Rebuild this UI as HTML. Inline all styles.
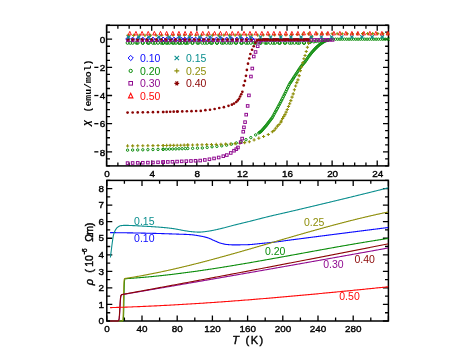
<!DOCTYPE html>
<html><head><meta charset="utf-8"><title>chart</title>
<style>html,body{margin:0;padding:0;background:#fff;}svg{display:block;will-change:transform;opacity:0.999;}body{font-family:"Liberation Sans",sans-serif;}</style>
</head><body>
<svg width="471" height="364" viewBox="0 0 471 364">
<rect width="471" height="364" fill="#fff"/>
<g stroke="#000" stroke-width="1.5" fill="none" stroke-linecap="butt">
<rect x="106.6" y="25.3" width="281.9" height="140.6"/>
<rect x="106.8" y="180.4" width="281.59999999999997" height="140.6"/>
<path d="M106.60 165.9v-5.5M106.60 25.3v5.5M117.88 165.9v-3.4M117.88 25.3v3.4M129.15 165.9v-3.4M129.15 25.3v3.4M140.43 165.9v-3.4M140.43 25.3v3.4M151.70 165.9v-5.5M151.70 25.3v5.5M162.98 165.9v-3.4M162.98 25.3v3.4M174.26 165.9v-3.4M174.26 25.3v3.4M185.53 165.9v-3.4M185.53 25.3v3.4M196.81 165.9v-5.5M196.81 25.3v5.5M208.08 165.9v-3.4M208.08 25.3v3.4M219.36 165.9v-3.4M219.36 25.3v3.4M230.64 165.9v-3.4M230.64 25.3v3.4M241.91 165.9v-5.5M241.91 25.3v5.5M253.19 165.9v-3.4M253.19 25.3v3.4M264.46 165.9v-3.4M264.46 25.3v3.4M275.74 165.9v-3.4M275.74 25.3v3.4M287.02 165.9v-5.5M287.02 25.3v5.5M298.29 165.9v-3.4M298.29 25.3v3.4M309.57 165.9v-3.4M309.57 25.3v3.4M320.84 165.9v-3.4M320.84 25.3v3.4M332.12 165.9v-5.5M332.12 25.3v5.5M343.40 165.9v-3.4M343.40 25.3v3.4M354.67 165.9v-3.4M354.67 25.3v3.4M365.95 165.9v-3.4M365.95 25.3v3.4M377.22 165.9v-5.5M377.22 25.3v5.5M388.50 165.9v-3.4M388.50 25.3v3.4M106.6 165.92h3.4M388.5 165.92h-3.4M106.6 158.88h3.4M388.5 158.88h-3.4M106.6 151.84h5.5M388.5 151.84h-5.5M106.6 144.80h3.4M388.5 144.80h-3.4M106.6 137.76h3.4M388.5 137.76h-3.4M106.6 130.72h3.4M388.5 130.72h-3.4M106.6 123.68h5.5M388.5 123.68h-5.5M106.6 116.64h3.4M388.5 116.64h-3.4M106.6 109.60h3.4M388.5 109.60h-3.4M106.6 102.56h3.4M388.5 102.56h-3.4M106.6 95.52h5.5M388.5 95.52h-5.5M106.6 88.48h3.4M388.5 88.48h-3.4M106.6 81.44h3.4M388.5 81.44h-3.4M106.6 74.40h3.4M388.5 74.40h-3.4M106.6 67.36h5.5M388.5 67.36h-5.5M106.6 60.32h3.4M388.5 60.32h-3.4M106.6 53.28h3.4M388.5 53.28h-3.4M106.6 46.24h3.4M388.5 46.24h-3.4M106.6 39.20h5.5M388.5 39.20h-5.5M106.6 32.16h3.4M388.5 32.16h-3.4M106.6 25.12h3.4M388.5 25.12h-3.4M106.80 321.0v-5.5M106.80 180.4v5.5M124.40 321.0v-3.4M124.40 180.4v3.4M142.00 321.0v-5.5M142.00 180.4v5.5M159.60 321.0v-3.4M159.60 180.4v3.4M177.20 321.0v-5.5M177.20 180.4v5.5M194.80 321.0v-3.4M194.80 180.4v3.4M212.40 321.0v-5.5M212.40 180.4v5.5M230.00 321.0v-3.4M230.00 180.4v3.4M247.60 321.0v-5.5M247.60 180.4v5.5M265.20 321.0v-3.4M265.20 180.4v3.4M282.80 321.0v-5.5M282.80 180.4v5.5M300.40 321.0v-3.4M300.40 180.4v3.4M318.00 321.0v-5.5M318.00 180.4v5.5M335.60 321.0v-3.4M335.60 180.4v3.4M353.20 321.0v-5.5M353.20 180.4v5.5M370.80 321.0v-3.4M370.80 180.4v3.4M388.40 321.0v-5.5M388.40 180.4v5.5M106.8 321.00h5.5M388.4 321.00h-5.5M106.8 312.73h3.4M388.4 312.73h-3.4M106.8 304.45h5.5M388.4 304.45h-5.5M106.8 296.18h3.4M388.4 296.18h-3.4M106.8 287.90h5.5M388.4 287.90h-5.5M106.8 279.62h3.4M388.4 279.62h-3.4M106.8 271.35h5.5M388.4 271.35h-5.5M106.8 263.07h3.4M388.4 263.07h-3.4M106.8 254.80h5.5M388.4 254.80h-5.5M106.8 246.52h3.4M388.4 246.52h-3.4M106.8 238.25h5.5M388.4 238.25h-5.5M106.8 229.97h3.4M388.4 229.97h-3.4M106.8 221.70h5.5M388.4 221.70h-5.5M106.8 213.43h3.4M388.4 213.43h-3.4M106.8 205.15h5.5M388.4 205.15h-5.5M106.8 196.88h3.4M388.4 196.88h-3.4M106.8 188.60h5.5M388.4 188.60h-5.5M106.8 180.32h3.4M388.4 180.32h-3.4" stroke-width="1.3"/>
</g>
<clipPath id="ct"><rect x="106.6" y="22.3" width="283.09999999999997" height="143.6"/></clipPath>
<g clip-path="url(#ct)">
<path d="M125.70 38.99L127.57 37.12L129.45 38.99L127.57 40.86Z" fill="none" stroke="#0a0aff" stroke-width="1"/>
<path d="M130.78 38.99L132.65 37.12L134.52 38.99L132.65 40.86Z" fill="none" stroke="#0a0aff" stroke-width="1"/>
<path d="M135.85 38.99L137.72 37.12L139.59 38.99L137.72 40.86Z" fill="none" stroke="#0a0aff" stroke-width="1"/>
<path d="M140.92 38.99L142.80 37.12L144.67 38.99L142.80 40.86Z" fill="none" stroke="#0a0aff" stroke-width="1"/>
<path d="M146.00 38.99L147.87 37.12L149.74 38.99L147.87 40.86Z" fill="none" stroke="#0a0aff" stroke-width="1"/>
<path d="M151.07 38.99L152.94 37.12L154.82 38.99L152.94 40.86Z" fill="none" stroke="#0a0aff" stroke-width="1"/>
<path d="M156.15 38.99L158.02 37.12L159.89 38.99L158.02 40.86Z" fill="none" stroke="#0a0aff" stroke-width="1"/>
<path d="M161.22 38.99L163.09 37.12L164.96 38.99L163.09 40.86Z" fill="none" stroke="#0a0aff" stroke-width="1"/>
<path d="M161.33 38.99L163.21 37.12L165.08 38.99L163.21 40.86Z" fill="none" stroke="#0a0aff" stroke-width="1"/>
<path d="M164.94 38.99L166.81 37.12L168.69 38.99L166.81 40.86Z" fill="none" stroke="#0a0aff" stroke-width="1"/>
<path d="M168.55 38.99L170.42 37.12L172.29 38.99L170.42 40.86Z" fill="none" stroke="#0a0aff" stroke-width="1"/>
<path d="M172.16 38.99L174.03 37.12L175.90 38.99L174.03 40.86Z" fill="none" stroke="#0a0aff" stroke-width="1"/>
<path d="M175.77 38.99L177.64 37.12L179.51 38.99L177.64 40.86Z" fill="none" stroke="#0a0aff" stroke-width="1"/>
<path d="M179.38 38.99L181.25 37.12L183.12 38.99L181.25 40.86Z" fill="none" stroke="#0a0aff" stroke-width="1"/>
<path d="M182.98 38.99L184.86 37.12L186.73 38.99L184.86 40.86Z" fill="none" stroke="#0a0aff" stroke-width="1"/>
<path d="M186.59 38.99L188.46 37.12L190.34 38.99L188.46 40.86Z" fill="none" stroke="#0a0aff" stroke-width="1"/>
<path d="M190.20 38.99L192.07 37.12L193.94 38.99L192.07 40.86Z" fill="none" stroke="#0a0aff" stroke-width="1"/>
<path d="M193.81 38.99L195.68 37.12L197.55 38.99L195.68 40.86Z" fill="none" stroke="#0a0aff" stroke-width="1"/>
<path d="M197.42 38.99L199.29 37.12L201.16 38.99L199.29 40.86Z" fill="none" stroke="#0a0aff" stroke-width="1"/>
<path d="M199.45 38.99L201.32 37.12L203.19 38.99L201.32 40.86Z" fill="none" stroke="#0a0aff" stroke-width="1"/>
<path d="M204.52 38.99L206.39 37.12L208.26 38.99L206.39 40.86Z" fill="none" stroke="#0a0aff" stroke-width="1"/>
<path d="M209.59 38.99L211.47 37.12L213.34 38.99L211.47 40.86Z" fill="none" stroke="#0a0aff" stroke-width="1"/>
<path d="M214.67 38.99L216.54 37.12L218.41 38.99L216.54 40.86Z" fill="none" stroke="#0a0aff" stroke-width="1"/>
<path d="M219.74 38.99L221.62 37.12L223.49 38.99L221.62 40.86Z" fill="none" stroke="#0a0aff" stroke-width="1"/>
<path d="M224.82 38.99L226.69 37.12L228.56 38.99L226.69 40.86Z" fill="none" stroke="#0a0aff" stroke-width="1"/>
<path d="M229.89 38.99L231.76 37.12L233.64 38.99L231.76 40.86Z" fill="none" stroke="#0a0aff" stroke-width="1"/>
<path d="M234.97 38.99L236.84 37.12L238.71 38.99L236.84 40.86Z" fill="none" stroke="#0a0aff" stroke-width="1"/>
<path d="M240.04 38.99L241.91 37.12L243.78 38.99L241.91 40.86Z" fill="none" stroke="#0a0aff" stroke-width="1"/>
<path d="M245.11 38.99L246.99 37.12L248.86 38.99L246.99 40.86Z" fill="none" stroke="#0a0aff" stroke-width="1"/>
<path d="M250.19 38.99L252.06 37.12L253.93 38.99L252.06 40.86Z" fill="none" stroke="#0a0aff" stroke-width="1"/>
<circle cx="127.57" cy="42.86" r="1.48" fill="none" stroke="#0a8c0a" stroke-width="1"/>
<circle cx="132.65" cy="42.86" r="1.48" fill="none" stroke="#0a8c0a" stroke-width="1"/>
<circle cx="137.72" cy="42.86" r="1.48" fill="none" stroke="#0a8c0a" stroke-width="1"/>
<circle cx="142.80" cy="42.86" r="1.48" fill="none" stroke="#0a8c0a" stroke-width="1"/>
<circle cx="147.87" cy="42.86" r="1.48" fill="none" stroke="#0a8c0a" stroke-width="1"/>
<circle cx="152.94" cy="42.86" r="1.48" fill="none" stroke="#0a8c0a" stroke-width="1"/>
<circle cx="158.02" cy="42.86" r="1.48" fill="none" stroke="#0a8c0a" stroke-width="1"/>
<circle cx="163.09" cy="42.86" r="1.48" fill="none" stroke="#0a8c0a" stroke-width="1"/>
<circle cx="163.21" cy="42.86" r="1.48" fill="none" stroke="#0a8c0a" stroke-width="1"/>
<circle cx="166.36" cy="42.86" r="1.48" fill="none" stroke="#0a8c0a" stroke-width="1"/>
<circle cx="169.52" cy="42.86" r="1.48" fill="none" stroke="#0a8c0a" stroke-width="1"/>
<circle cx="172.68" cy="42.86" r="1.48" fill="none" stroke="#0a8c0a" stroke-width="1"/>
<circle cx="175.83" cy="42.86" r="1.48" fill="none" stroke="#0a8c0a" stroke-width="1"/>
<circle cx="178.99" cy="42.86" r="1.48" fill="none" stroke="#0a8c0a" stroke-width="1"/>
<circle cx="182.15" cy="42.86" r="1.48" fill="none" stroke="#0a8c0a" stroke-width="1"/>
<circle cx="185.31" cy="42.86" r="1.48" fill="none" stroke="#0a8c0a" stroke-width="1"/>
<circle cx="187.79" cy="42.86" r="1.48" fill="none" stroke="#0a8c0a" stroke-width="1"/>
<circle cx="192.64" cy="42.86" r="1.48" fill="none" stroke="#0a8c0a" stroke-width="1"/>
<circle cx="197.48" cy="42.86" r="1.48" fill="none" stroke="#0a8c0a" stroke-width="1"/>
<circle cx="202.33" cy="42.86" r="1.48" fill="none" stroke="#0a8c0a" stroke-width="1"/>
<circle cx="207.18" cy="42.86" r="1.48" fill="none" stroke="#0a8c0a" stroke-width="1"/>
<circle cx="212.03" cy="42.86" r="1.48" fill="none" stroke="#0a8c0a" stroke-width="1"/>
<circle cx="216.88" cy="42.86" r="1.48" fill="none" stroke="#0a8c0a" stroke-width="1"/>
<circle cx="221.73" cy="42.86" r="1.48" fill="none" stroke="#0a8c0a" stroke-width="1"/>
<circle cx="226.58" cy="42.86" r="1.48" fill="none" stroke="#0a8c0a" stroke-width="1"/>
<circle cx="231.43" cy="42.86" r="1.48" fill="none" stroke="#0a8c0a" stroke-width="1"/>
<circle cx="236.27" cy="42.86" r="1.48" fill="none" stroke="#0a8c0a" stroke-width="1"/>
<circle cx="241.12" cy="42.86" r="1.48" fill="none" stroke="#0a8c0a" stroke-width="1"/>
<circle cx="245.97" cy="42.86" r="1.48" fill="none" stroke="#0a8c0a" stroke-width="1"/>
<circle cx="250.82" cy="42.86" r="1.48" fill="none" stroke="#0a8c0a" stroke-width="1"/>
<circle cx="255.67" cy="42.86" r="1.48" fill="none" stroke="#0a8c0a" stroke-width="1"/>
<circle cx="260.52" cy="42.86" r="1.48" fill="none" stroke="#0a8c0a" stroke-width="1"/>
<circle cx="265.37" cy="42.86" r="1.48" fill="none" stroke="#0a8c0a" stroke-width="1"/>
<circle cx="270.21" cy="42.86" r="1.48" fill="none" stroke="#0a8c0a" stroke-width="1"/>
<circle cx="275.06" cy="42.86" r="1.48" fill="none" stroke="#0a8c0a" stroke-width="1"/>
<circle cx="279.91" cy="42.86" r="1.48" fill="none" stroke="#0a8c0a" stroke-width="1"/>
<circle cx="284.76" cy="42.86" r="1.48" fill="none" stroke="#0a8c0a" stroke-width="1"/>
<circle cx="289.61" cy="42.86" r="1.48" fill="none" stroke="#0a8c0a" stroke-width="1"/>
<circle cx="294.46" cy="42.86" r="1.48" fill="none" stroke="#0a8c0a" stroke-width="1"/>
<circle cx="299.31" cy="42.86" r="1.48" fill="none" stroke="#0a8c0a" stroke-width="1"/>
<circle cx="304.16" cy="42.83" r="1.48" fill="none" stroke="#0a8c0a" stroke-width="1"/>
<circle cx="309.00" cy="42.16" r="1.48" fill="none" stroke="#0a8c0a" stroke-width="1"/>
<circle cx="313.85" cy="41.50" r="1.48" fill="none" stroke="#0a8c0a" stroke-width="1"/>
<circle cx="318.70" cy="40.79" r="1.48" fill="none" stroke="#0a8c0a" stroke-width="1"/>
<circle cx="323.55" cy="40.06" r="1.48" fill="none" stroke="#0a8c0a" stroke-width="1"/>
<circle cx="130.28" cy="42.86" r="1.48" fill="none" stroke="#0a8c0a" stroke-width="1"/>
<circle cx="136.48" cy="42.86" r="1.48" fill="none" stroke="#0a8c0a" stroke-width="1"/>
<circle cx="142.68" cy="42.86" r="1.48" fill="none" stroke="#0a8c0a" stroke-width="1"/>
<circle cx="148.88" cy="42.86" r="1.48" fill="none" stroke="#0a8c0a" stroke-width="1"/>
<circle cx="155.09" cy="42.86" r="1.48" fill="none" stroke="#0a8c0a" stroke-width="1"/>
<circle cx="161.29" cy="42.86" r="1.48" fill="none" stroke="#0a8c0a" stroke-width="1"/>
<circle cx="167.49" cy="42.86" r="1.48" fill="none" stroke="#0a8c0a" stroke-width="1"/>
<circle cx="173.69" cy="42.86" r="1.48" fill="none" stroke="#0a8c0a" stroke-width="1"/>
<circle cx="179.89" cy="42.86" r="1.48" fill="none" stroke="#0a8c0a" stroke-width="1"/>
<circle cx="186.10" cy="42.86" r="1.48" fill="none" stroke="#0a8c0a" stroke-width="1"/>
<circle cx="192.30" cy="42.86" r="1.48" fill="none" stroke="#0a8c0a" stroke-width="1"/>
<circle cx="198.50" cy="42.86" r="1.48" fill="none" stroke="#0a8c0a" stroke-width="1"/>
<circle cx="204.70" cy="42.86" r="1.48" fill="none" stroke="#0a8c0a" stroke-width="1"/>
<circle cx="210.90" cy="42.86" r="1.48" fill="none" stroke="#0a8c0a" stroke-width="1"/>
<circle cx="217.10" cy="42.86" r="1.48" fill="none" stroke="#0a8c0a" stroke-width="1"/>
<circle cx="223.31" cy="42.86" r="1.48" fill="none" stroke="#0a8c0a" stroke-width="1"/>
<circle cx="229.51" cy="42.86" r="1.48" fill="none" stroke="#0a8c0a" stroke-width="1"/>
<circle cx="235.71" cy="42.86" r="1.48" fill="none" stroke="#0a8c0a" stroke-width="1"/>
<circle cx="241.91" cy="42.86" r="1.48" fill="none" stroke="#0a8c0a" stroke-width="1"/>
<circle cx="248.11" cy="42.86" r="1.48" fill="none" stroke="#0a8c0a" stroke-width="1"/>
<circle cx="254.32" cy="42.86" r="1.48" fill="none" stroke="#0a8c0a" stroke-width="1"/>
<circle cx="260.52" cy="42.86" r="1.48" fill="none" stroke="#0a8c0a" stroke-width="1"/>
<circle cx="266.72" cy="42.86" r="1.48" fill="none" stroke="#0a8c0a" stroke-width="1"/>
<circle cx="272.92" cy="42.86" r="1.48" fill="none" stroke="#0a8c0a" stroke-width="1"/>
<circle cx="279.12" cy="42.86" r="1.48" fill="none" stroke="#0a8c0a" stroke-width="1"/>
<circle cx="285.32" cy="42.86" r="1.48" fill="none" stroke="#0a8c0a" stroke-width="1"/>
<circle cx="291.53" cy="42.86" r="1.48" fill="none" stroke="#0a8c0a" stroke-width="1"/>
<circle cx="297.73" cy="42.86" r="1.48" fill="none" stroke="#0a8c0a" stroke-width="1"/>
<circle cx="303.93" cy="42.86" r="1.48" fill="none" stroke="#0a8c0a" stroke-width="1"/>
<circle cx="310.13" cy="42.01" r="1.48" fill="none" stroke="#0a8c0a" stroke-width="1"/>
<circle cx="316.33" cy="41.14" r="1.48" fill="none" stroke="#0a8c0a" stroke-width="1"/>
<circle cx="322.54" cy="40.21" r="1.48" fill="none" stroke="#0a8c0a" stroke-width="1"/>
<circle cx="127.57" cy="150.15" r="1.19" fill="none" stroke="#0a8c0a" stroke-width="1"/>
<circle cx="132.65" cy="150.03" r="1.19" fill="none" stroke="#0a8c0a" stroke-width="1"/>
<circle cx="137.72" cy="149.91" r="1.19" fill="none" stroke="#0a8c0a" stroke-width="1"/>
<circle cx="142.80" cy="149.79" r="1.19" fill="none" stroke="#0a8c0a" stroke-width="1"/>
<circle cx="147.87" cy="149.67" r="1.19" fill="none" stroke="#0a8c0a" stroke-width="1"/>
<circle cx="152.94" cy="149.55" r="1.19" fill="none" stroke="#0a8c0a" stroke-width="1"/>
<circle cx="158.02" cy="149.42" r="1.19" fill="none" stroke="#0a8c0a" stroke-width="1"/>
<circle cx="163.09" cy="149.30" r="1.19" fill="none" stroke="#0a8c0a" stroke-width="1"/>
<circle cx="163.21" cy="149.30" r="1.19" fill="none" stroke="#0a8c0a" stroke-width="1"/>
<circle cx="166.36" cy="149.20" r="1.19" fill="none" stroke="#0a8c0a" stroke-width="1"/>
<circle cx="169.52" cy="149.09" r="1.19" fill="none" stroke="#0a8c0a" stroke-width="1"/>
<circle cx="172.68" cy="148.99" r="1.19" fill="none" stroke="#0a8c0a" stroke-width="1"/>
<circle cx="175.83" cy="148.89" r="1.19" fill="none" stroke="#0a8c0a" stroke-width="1"/>
<circle cx="178.99" cy="148.78" r="1.19" fill="none" stroke="#0a8c0a" stroke-width="1"/>
<circle cx="182.15" cy="148.68" r="1.19" fill="none" stroke="#0a8c0a" stroke-width="1"/>
<circle cx="185.31" cy="148.58" r="1.19" fill="none" stroke="#0a8c0a" stroke-width="1"/>
<circle cx="187.79" cy="148.50" r="1.19" fill="none" stroke="#0a8c0a" stroke-width="1"/>
<circle cx="192.64" cy="148.34" r="1.19" fill="none" stroke="#0a8c0a" stroke-width="1"/>
<circle cx="197.48" cy="148.18" r="1.19" fill="none" stroke="#0a8c0a" stroke-width="1"/>
<circle cx="202.33" cy="147.98" r="1.19" fill="none" stroke="#0a8c0a" stroke-width="1"/>
<circle cx="207.18" cy="147.44" r="1.19" fill="none" stroke="#0a8c0a" stroke-width="1"/>
<circle cx="212.03" cy="146.77" r="1.19" fill="none" stroke="#0a8c0a" stroke-width="1"/>
<circle cx="216.88" cy="146.40" r="1.19" fill="none" stroke="#0a8c0a" stroke-width="1"/>
<circle cx="221.73" cy="145.81" r="1.19" fill="none" stroke="#0a8c0a" stroke-width="1"/>
<circle cx="226.58" cy="145.18" r="1.19" fill="none" stroke="#0a8c0a" stroke-width="1"/>
<circle cx="231.43" cy="144.20" r="1.19" fill="none" stroke="#0a8c0a" stroke-width="1"/>
<circle cx="236.27" cy="142.94" r="1.19" fill="none" stroke="#0a8c0a" stroke-width="1"/>
<circle cx="241.12" cy="141.53" r="1.19" fill="none" stroke="#0a8c0a" stroke-width="1"/>
<circle cx="245.97" cy="139.67" r="1.19" fill="none" stroke="#0a8c0a" stroke-width="1"/>
<circle cx="250.82" cy="137.61" r="1.19" fill="none" stroke="#0a8c0a" stroke-width="1"/>
<circle cx="255.67" cy="134.90" r="1.19" fill="none" stroke="#0a8c0a" stroke-width="1"/>
<circle cx="258.83" cy="132.94" r="1.19" fill="none" stroke="#0a8c0a" stroke-width="1"/>
<circle cx="259.67" cy="132.37" r="1.19" fill="none" stroke="#0a8c0a" stroke-width="1"/>
<circle cx="260.52" cy="131.80" r="1.19" fill="none" stroke="#0a8c0a" stroke-width="1"/>
<circle cx="261.36" cy="131.10" r="1.19" fill="none" stroke="#0a8c0a" stroke-width="1"/>
<circle cx="262.21" cy="130.13" r="1.19" fill="none" stroke="#0a8c0a" stroke-width="1"/>
<circle cx="263.05" cy="129.17" r="1.19" fill="none" stroke="#0a8c0a" stroke-width="1"/>
<circle cx="263.90" cy="128.20" r="1.19" fill="none" stroke="#0a8c0a" stroke-width="1"/>
<circle cx="264.75" cy="127.23" r="1.19" fill="none" stroke="#0a8c0a" stroke-width="1"/>
<circle cx="265.59" cy="126.25" r="1.19" fill="none" stroke="#0a8c0a" stroke-width="1"/>
<circle cx="266.44" cy="125.28" r="1.19" fill="none" stroke="#0a8c0a" stroke-width="1"/>
<circle cx="267.28" cy="124.18" r="1.19" fill="none" stroke="#0a8c0a" stroke-width="1"/>
<circle cx="268.13" cy="123.04" r="1.19" fill="none" stroke="#0a8c0a" stroke-width="1"/>
<circle cx="268.97" cy="121.90" r="1.19" fill="none" stroke="#0a8c0a" stroke-width="1"/>
<circle cx="269.82" cy="120.78" r="1.19" fill="none" stroke="#0a8c0a" stroke-width="1"/>
<circle cx="270.67" cy="119.68" r="1.19" fill="none" stroke="#0a8c0a" stroke-width="1"/>
<circle cx="271.51" cy="118.59" r="1.19" fill="none" stroke="#0a8c0a" stroke-width="1"/>
<circle cx="272.36" cy="117.49" r="1.19" fill="none" stroke="#0a8c0a" stroke-width="1"/>
<circle cx="273.20" cy="115.93" r="1.19" fill="none" stroke="#0a8c0a" stroke-width="1"/>
<circle cx="274.05" cy="114.30" r="1.19" fill="none" stroke="#0a8c0a" stroke-width="1"/>
<circle cx="274.89" cy="112.67" r="1.19" fill="none" stroke="#0a8c0a" stroke-width="1"/>
<circle cx="275.74" cy="111.16" r="1.19" fill="none" stroke="#0a8c0a" stroke-width="1"/>
<circle cx="276.59" cy="109.66" r="1.19" fill="none" stroke="#0a8c0a" stroke-width="1"/>
<circle cx="277.43" cy="108.17" r="1.19" fill="none" stroke="#0a8c0a" stroke-width="1"/>
<circle cx="278.28" cy="106.57" r="1.19" fill="none" stroke="#0a8c0a" stroke-width="1"/>
<circle cx="279.12" cy="104.94" r="1.19" fill="none" stroke="#0a8c0a" stroke-width="1"/>
<circle cx="279.97" cy="103.31" r="1.19" fill="none" stroke="#0a8c0a" stroke-width="1"/>
<circle cx="280.81" cy="101.68" r="1.19" fill="none" stroke="#0a8c0a" stroke-width="1"/>
<circle cx="281.66" cy="100.04" r="1.19" fill="none" stroke="#0a8c0a" stroke-width="1"/>
<circle cx="282.51" cy="98.41" r="1.19" fill="none" stroke="#0a8c0a" stroke-width="1"/>
<circle cx="283.35" cy="96.71" r="1.19" fill="none" stroke="#0a8c0a" stroke-width="1"/>
<circle cx="284.20" cy="95.00" r="1.19" fill="none" stroke="#0a8c0a" stroke-width="1"/>
<circle cx="285.04" cy="93.29" r="1.19" fill="none" stroke="#0a8c0a" stroke-width="1"/>
<circle cx="285.89" cy="91.49" r="1.19" fill="none" stroke="#0a8c0a" stroke-width="1"/>
<circle cx="286.73" cy="89.70" r="1.19" fill="none" stroke="#0a8c0a" stroke-width="1"/>
<circle cx="287.58" cy="87.95" r="1.19" fill="none" stroke="#0a8c0a" stroke-width="1"/>
<circle cx="288.43" cy="86.27" r="1.19" fill="none" stroke="#0a8c0a" stroke-width="1"/>
<circle cx="289.27" cy="84.59" r="1.19" fill="none" stroke="#0a8c0a" stroke-width="1"/>
<circle cx="290.12" cy="83.11" r="1.19" fill="none" stroke="#0a8c0a" stroke-width="1"/>
<circle cx="290.96" cy="81.87" r="1.19" fill="none" stroke="#0a8c0a" stroke-width="1"/>
<circle cx="291.81" cy="80.61" r="1.19" fill="none" stroke="#0a8c0a" stroke-width="1"/>
<circle cx="292.65" cy="79.31" r="1.19" fill="none" stroke="#0a8c0a" stroke-width="1"/>
<circle cx="293.50" cy="78.00" r="1.19" fill="none" stroke="#0a8c0a" stroke-width="1"/>
<circle cx="294.35" cy="76.69" r="1.19" fill="none" stroke="#0a8c0a" stroke-width="1"/>
<circle cx="295.19" cy="75.38" r="1.19" fill="none" stroke="#0a8c0a" stroke-width="1"/>
<circle cx="296.04" cy="74.08" r="1.19" fill="none" stroke="#0a8c0a" stroke-width="1"/>
<circle cx="296.88" cy="72.78" r="1.19" fill="none" stroke="#0a8c0a" stroke-width="1"/>
<circle cx="297.73" cy="71.48" r="1.19" fill="none" stroke="#0a8c0a" stroke-width="1"/>
<circle cx="298.57" cy="70.20" r="1.19" fill="none" stroke="#0a8c0a" stroke-width="1"/>
<circle cx="299.42" cy="68.94" r="1.19" fill="none" stroke="#0a8c0a" stroke-width="1"/>
<circle cx="300.27" cy="67.67" r="1.19" fill="none" stroke="#0a8c0a" stroke-width="1"/>
<circle cx="301.11" cy="66.40" r="1.19" fill="none" stroke="#0a8c0a" stroke-width="1"/>
<circle cx="301.96" cy="65.37" r="1.19" fill="none" stroke="#0a8c0a" stroke-width="1"/>
<circle cx="302.80" cy="64.37" r="1.19" fill="none" stroke="#0a8c0a" stroke-width="1"/>
<circle cx="303.65" cy="63.37" r="1.19" fill="none" stroke="#0a8c0a" stroke-width="1"/>
<circle cx="304.49" cy="62.37" r="1.19" fill="none" stroke="#0a8c0a" stroke-width="1"/>
<circle cx="305.34" cy="61.36" r="1.19" fill="none" stroke="#0a8c0a" stroke-width="1"/>
<circle cx="306.19" cy="60.15" r="1.19" fill="none" stroke="#0a8c0a" stroke-width="1"/>
<circle cx="307.03" cy="58.88" r="1.19" fill="none" stroke="#0a8c0a" stroke-width="1"/>
<circle cx="307.88" cy="57.62" r="1.19" fill="none" stroke="#0a8c0a" stroke-width="1"/>
<circle cx="308.72" cy="56.35" r="1.19" fill="none" stroke="#0a8c0a" stroke-width="1"/>
<circle cx="309.57" cy="55.25" r="1.19" fill="none" stroke="#0a8c0a" stroke-width="1"/>
<circle cx="310.41" cy="54.20" r="1.19" fill="none" stroke="#0a8c0a" stroke-width="1"/>
<circle cx="311.26" cy="53.14" r="1.19" fill="none" stroke="#0a8c0a" stroke-width="1"/>
<circle cx="312.11" cy="52.08" r="1.19" fill="none" stroke="#0a8c0a" stroke-width="1"/>
<circle cx="312.95" cy="51.14" r="1.19" fill="none" stroke="#0a8c0a" stroke-width="1"/>
<circle cx="313.80" cy="50.22" r="1.19" fill="none" stroke="#0a8c0a" stroke-width="1"/>
<circle cx="314.64" cy="49.30" r="1.19" fill="none" stroke="#0a8c0a" stroke-width="1"/>
<circle cx="315.49" cy="48.38" r="1.19" fill="none" stroke="#0a8c0a" stroke-width="1"/>
<circle cx="316.33" cy="47.55" r="1.19" fill="none" stroke="#0a8c0a" stroke-width="1"/>
<circle cx="317.18" cy="46.78" r="1.19" fill="none" stroke="#0a8c0a" stroke-width="1"/>
<circle cx="318.02" cy="46.01" r="1.19" fill="none" stroke="#0a8c0a" stroke-width="1"/>
<circle cx="318.87" cy="45.23" r="1.19" fill="none" stroke="#0a8c0a" stroke-width="1"/>
<circle cx="319.72" cy="44.55" r="1.19" fill="none" stroke="#0a8c0a" stroke-width="1"/>
<circle cx="320.56" cy="43.92" r="1.19" fill="none" stroke="#0a8c0a" stroke-width="1"/>
<circle cx="321.41" cy="43.28" r="1.19" fill="none" stroke="#0a8c0a" stroke-width="1"/>
<circle cx="322.25" cy="42.65" r="1.19" fill="none" stroke="#0a8c0a" stroke-width="1"/>
<circle cx="323.10" cy="42.13" r="1.19" fill="none" stroke="#0a8c0a" stroke-width="1"/>
<circle cx="323.94" cy="41.66" r="1.19" fill="none" stroke="#0a8c0a" stroke-width="1"/>
<circle cx="324.79" cy="41.19" r="1.19" fill="none" stroke="#0a8c0a" stroke-width="1"/>
<circle cx="325.64" cy="40.73" r="1.19" fill="none" stroke="#0a8c0a" stroke-width="1"/>
<circle cx="326.48" cy="40.49" r="1.19" fill="none" stroke="#0a8c0a" stroke-width="1"/>
<circle cx="327.33" cy="40.25" r="1.19" fill="none" stroke="#0a8c0a" stroke-width="1"/>
<circle cx="328.17" cy="40.00" r="1.19" fill="none" stroke="#0a8c0a" stroke-width="1"/>
<circle cx="328.74" cy="39.86" r="1.19" fill="none" stroke="#0a8c0a" stroke-width="1"/>
<circle cx="330.99" cy="39.42" r="1.19" fill="none" stroke="#0a8c0a" stroke-width="1"/>
<circle cx="333.25" cy="39.20" r="1.19" fill="none" stroke="#0a8c0a" stroke-width="1"/>
<circle cx="335.50" cy="39.20" r="1.19" fill="none" stroke="#0a8c0a" stroke-width="1"/>
<circle cx="337.76" cy="39.20" r="1.19" fill="none" stroke="#0a8c0a" stroke-width="1"/>
<circle cx="340.01" cy="39.20" r="1.19" fill="none" stroke="#0a8c0a" stroke-width="1"/>
<circle cx="342.27" cy="39.20" r="1.19" fill="none" stroke="#0a8c0a" stroke-width="1"/>
<circle cx="344.52" cy="39.20" r="1.19" fill="none" stroke="#0a8c0a" stroke-width="1"/>
<circle cx="346.78" cy="39.20" r="1.19" fill="none" stroke="#0a8c0a" stroke-width="1"/>
<circle cx="349.03" cy="39.20" r="1.19" fill="none" stroke="#0a8c0a" stroke-width="1"/>
<circle cx="351.29" cy="39.20" r="1.19" fill="none" stroke="#0a8c0a" stroke-width="1"/>
<circle cx="353.54" cy="39.20" r="1.19" fill="none" stroke="#0a8c0a" stroke-width="1"/>
<circle cx="355.80" cy="39.20" r="1.19" fill="none" stroke="#0a8c0a" stroke-width="1"/>
<circle cx="358.05" cy="39.20" r="1.19" fill="none" stroke="#0a8c0a" stroke-width="1"/>
<circle cx="360.31" cy="39.20" r="1.19" fill="none" stroke="#0a8c0a" stroke-width="1"/>
<circle cx="362.57" cy="39.20" r="1.19" fill="none" stroke="#0a8c0a" stroke-width="1"/>
<circle cx="364.82" cy="39.20" r="1.19" fill="none" stroke="#0a8c0a" stroke-width="1"/>
<circle cx="367.08" cy="39.20" r="1.19" fill="none" stroke="#0a8c0a" stroke-width="1"/>
<circle cx="369.33" cy="39.20" r="1.19" fill="none" stroke="#0a8c0a" stroke-width="1"/>
<circle cx="371.59" cy="39.20" r="1.19" fill="none" stroke="#0a8c0a" stroke-width="1"/>
<circle cx="373.84" cy="39.20" r="1.19" fill="none" stroke="#0a8c0a" stroke-width="1"/>
<circle cx="376.10" cy="39.20" r="1.19" fill="none" stroke="#0a8c0a" stroke-width="1"/>
<circle cx="378.35" cy="39.20" r="1.19" fill="none" stroke="#0a8c0a" stroke-width="1"/>
<circle cx="380.61" cy="39.20" r="1.19" fill="none" stroke="#0a8c0a" stroke-width="1"/>
<circle cx="382.86" cy="39.20" r="1.19" fill="none" stroke="#0a8c0a" stroke-width="1"/>
<circle cx="385.12" cy="39.20" r="1.19" fill="none" stroke="#0a8c0a" stroke-width="1"/>
<circle cx="387.37" cy="39.20" r="1.19" fill="none" stroke="#0a8c0a" stroke-width="1"/>
<circle cx="389.63" cy="39.20" r="1.19" fill="none" stroke="#0a8c0a" stroke-width="1"/>
<path d="M126.44 35.35L129.61 35.35M128.02 33.76L128.02 36.93" fill="none" stroke="#8e8e0a" stroke-width="1.1"/>
<path d="M132.08 35.34L135.25 35.34M133.66 33.75L133.66 36.92" fill="none" stroke="#8e8e0a" stroke-width="1.1"/>
<path d="M137.72 35.32L140.88 35.32M139.30 33.74L139.30 36.91" fill="none" stroke="#8e8e0a" stroke-width="1.1"/>
<path d="M143.35 35.31L146.52 35.31M144.94 33.72L144.94 36.89" fill="none" stroke="#8e8e0a" stroke-width="1.1"/>
<path d="M148.99 35.30L152.16 35.30M150.58 33.71L150.58 36.88" fill="none" stroke="#8e8e0a" stroke-width="1.1"/>
<path d="M154.63 35.28L157.80 35.28M156.21 33.70L156.21 36.87" fill="none" stroke="#8e8e0a" stroke-width="1.1"/>
<path d="M160.27 35.27L163.44 35.27M161.85 33.69L161.85 36.85" fill="none" stroke="#8e8e0a" stroke-width="1.1"/>
<path d="M165.91 35.26L169.07 35.26M167.49 33.67L167.49 36.84" fill="none" stroke="#8e8e0a" stroke-width="1.1"/>
<path d="M171.54 35.24L174.71 35.24M173.13 33.66L173.13 36.83" fill="none" stroke="#8e8e0a" stroke-width="1.1"/>
<path d="M177.18 35.23L180.35 35.23M178.77 33.65L178.77 36.81" fill="none" stroke="#8e8e0a" stroke-width="1.1"/>
<path d="M182.82 35.22L185.99 35.22M184.40 33.63L184.40 36.80" fill="none" stroke="#8e8e0a" stroke-width="1.1"/>
<path d="M188.46 35.20L191.63 35.20M190.04 33.62L190.04 36.79" fill="none" stroke="#8e8e0a" stroke-width="1.1"/>
<path d="M194.10 35.19L197.26 35.19M195.68 33.61L195.68 36.77" fill="none" stroke="#8e8e0a" stroke-width="1.1"/>
<path d="M199.73 35.18L202.90 35.18M201.32 33.59L201.32 36.76" fill="none" stroke="#8e8e0a" stroke-width="1.1"/>
<path d="M205.37 35.16L208.54 35.16M206.96 33.58L206.96 36.75" fill="none" stroke="#8e8e0a" stroke-width="1.1"/>
<path d="M211.01 35.15L214.18 35.15M212.59 33.57L212.59 36.73" fill="none" stroke="#8e8e0a" stroke-width="1.1"/>
<path d="M216.65 35.14L219.82 35.14M218.23 33.55L218.23 36.72" fill="none" stroke="#8e8e0a" stroke-width="1.1"/>
<path d="M222.29 35.12L225.45 35.12M223.87 33.54L223.87 36.71" fill="none" stroke="#8e8e0a" stroke-width="1.1"/>
<path d="M227.92 35.11L231.09 35.11M229.51 33.53L229.51 36.69" fill="none" stroke="#8e8e0a" stroke-width="1.1"/>
<path d="M233.56 35.10L236.73 35.10M235.15 33.51L235.15 36.68" fill="none" stroke="#8e8e0a" stroke-width="1.1"/>
<path d="M239.20 35.08L242.37 35.08M240.78 33.50L240.78 36.67" fill="none" stroke="#8e8e0a" stroke-width="1.1"/>
<path d="M244.84 35.07L248.01 35.07M246.42 33.49L246.42 36.66" fill="none" stroke="#8e8e0a" stroke-width="1.1"/>
<path d="M250.48 35.06L253.64 35.06M252.06 33.47L252.06 36.64" fill="none" stroke="#8e8e0a" stroke-width="1.1"/>
<path d="M256.11 35.04L259.28 35.04M257.70 33.46L257.70 36.63" fill="none" stroke="#8e8e0a" stroke-width="1.1"/>
<path d="M261.75 35.03L264.92 35.03M263.34 33.45L263.34 36.62" fill="none" stroke="#8e8e0a" stroke-width="1.1"/>
<path d="M267.39 35.02L270.56 35.02M268.97 33.43L268.97 36.60" fill="none" stroke="#8e8e0a" stroke-width="1.1"/>
<path d="M273.03 35.01L276.20 35.01M274.61 33.42L274.61 36.59" fill="none" stroke="#8e8e0a" stroke-width="1.1"/>
<path d="M278.67 34.99L281.83 34.99M280.25 33.41L280.25 36.58" fill="none" stroke="#8e8e0a" stroke-width="1.1"/>
<path d="M284.30 34.98L287.47 34.98M285.89 33.39L285.89 36.56" fill="none" stroke="#8e8e0a" stroke-width="1.1"/>
<path d="M289.94 34.75L293.11 34.75M291.53 33.17L291.53 36.33" fill="none" stroke="#8e8e0a" stroke-width="1.1"/>
<path d="M295.58 34.47L298.75 34.47M297.16 32.89L297.16 36.05" fill="none" stroke="#8e8e0a" stroke-width="1.1"/>
<path d="M301.22 34.19L304.39 34.19M302.80 32.60L302.80 35.77" fill="none" stroke="#8e8e0a" stroke-width="1.1"/>
<path d="M306.86 33.91L310.02 33.91M308.44 32.32L308.44 35.49" fill="none" stroke="#8e8e0a" stroke-width="1.1"/>
<path d="M125.99 145.93L129.16 145.93M127.57 144.34L127.57 147.51" fill="none" stroke="#8e8e0a" stroke-width="1.1"/>
<path d="M131.06 145.87L134.23 145.87M132.65 144.28L132.65 147.45" fill="none" stroke="#8e8e0a" stroke-width="1.1"/>
<path d="M136.14 145.80L139.31 145.80M137.72 144.22L137.72 147.39" fill="none" stroke="#8e8e0a" stroke-width="1.1"/>
<path d="M141.21 145.74L144.38 145.74M142.80 144.16L142.80 147.33" fill="none" stroke="#8e8e0a" stroke-width="1.1"/>
<path d="M146.29 145.68L149.45 145.68M147.87 144.10L147.87 147.27" fill="none" stroke="#8e8e0a" stroke-width="1.1"/>
<path d="M151.36 145.62L154.53 145.62M152.94 144.04L152.94 147.20" fill="none" stroke="#8e8e0a" stroke-width="1.1"/>
<path d="M156.43 145.56L159.60 145.56M158.02 143.98L158.02 147.14" fill="none" stroke="#8e8e0a" stroke-width="1.1"/>
<path d="M161.51 145.50L164.68 145.50M163.09 143.91L163.09 147.08" fill="none" stroke="#8e8e0a" stroke-width="1.1"/>
<path d="M161.62 145.50L164.79 145.50M163.21 143.91L163.21 147.08" fill="none" stroke="#8e8e0a" stroke-width="1.1"/>
<path d="M165.12 145.45L168.29 145.45M166.70 143.87L166.70 147.04" fill="none" stroke="#8e8e0a" stroke-width="1.1"/>
<path d="M168.61 145.41L171.78 145.41M170.20 143.83L170.20 147.00" fill="none" stroke="#8e8e0a" stroke-width="1.1"/>
<path d="M172.11 145.37L175.28 145.37M173.69 143.79L173.69 146.95" fill="none" stroke="#8e8e0a" stroke-width="1.1"/>
<path d="M175.60 145.30L178.77 145.30M177.19 143.72L177.19 146.88" fill="none" stroke="#8e8e0a" stroke-width="1.1"/>
<path d="M179.10 145.22L182.27 145.22M180.68 143.64L180.68 146.81" fill="none" stroke="#8e8e0a" stroke-width="1.1"/>
<path d="M182.59 145.15L185.76 145.15M184.18 143.56L184.18 146.73" fill="none" stroke="#8e8e0a" stroke-width="1.1"/>
<path d="M186.09 145.07L189.26 145.07M187.67 143.49L187.67 146.65" fill="none" stroke="#8e8e0a" stroke-width="1.1"/>
<path d="M186.20 145.07L189.37 145.07M187.79 143.48L187.79 146.65" fill="none" stroke="#8e8e0a" stroke-width="1.1"/>
<path d="M190.94 144.96L194.11 144.96M192.52 143.38L192.52 146.55" fill="none" stroke="#8e8e0a" stroke-width="1.1"/>
<path d="M195.68 144.86L198.84 144.86M197.26 143.28L197.26 146.44" fill="none" stroke="#8e8e0a" stroke-width="1.1"/>
<path d="M200.41 144.76L203.58 144.76M201.99 143.17L201.99 146.34" fill="none" stroke="#8e8e0a" stroke-width="1.1"/>
<path d="M205.15 144.65L208.31 144.65M206.73 143.07L206.73 146.24" fill="none" stroke="#8e8e0a" stroke-width="1.1"/>
<path d="M209.88 144.55L213.05 144.55M211.47 142.97L211.47 146.13" fill="none" stroke="#8e8e0a" stroke-width="1.1"/>
<path d="M214.62 144.45L217.79 144.45M216.20 142.86L216.20 146.03" fill="none" stroke="#8e8e0a" stroke-width="1.1"/>
<path d="M219.35 144.32L222.52 144.32M220.94 142.73L220.94 145.90" fill="none" stroke="#8e8e0a" stroke-width="1.1"/>
<path d="M224.09 144.14L227.26 144.14M225.67 142.56L225.67 145.73" fill="none" stroke="#8e8e0a" stroke-width="1.1"/>
<path d="M228.83 143.96L231.99 143.96M230.41 142.38L230.41 145.55" fill="none" stroke="#8e8e0a" stroke-width="1.1"/>
<path d="M233.56 143.62L236.73 143.62M235.15 142.03L235.15 145.20" fill="none" stroke="#8e8e0a" stroke-width="1.1"/>
<path d="M238.30 143.26L241.47 143.26M239.88 141.68L239.88 144.85" fill="none" stroke="#8e8e0a" stroke-width="1.1"/>
<path d="M243.03 142.66L246.20 142.66M244.62 141.08L244.62 144.24" fill="none" stroke="#8e8e0a" stroke-width="1.1"/>
<path d="M247.77 141.73L250.94 141.73M249.35 140.15L249.35 143.31" fill="none" stroke="#8e8e0a" stroke-width="1.1"/>
<path d="M252.51 139.96L255.67 139.96M254.09 138.37L254.09 141.54" fill="none" stroke="#8e8e0a" stroke-width="1.1"/>
<path d="M257.24 138.18L260.41 138.18M258.83 136.60L258.83 139.77" fill="none" stroke="#8e8e0a" stroke-width="1.1"/>
<path d="M261.98 136.46L265.15 136.46M263.56 134.88L263.56 138.05" fill="none" stroke="#8e8e0a" stroke-width="1.1"/>
<path d="M266.71 134.54L269.88 134.54M268.30 132.95L268.30 136.12" fill="none" stroke="#8e8e0a" stroke-width="1.1"/>
<path d="M270.77 131.78L273.94 131.78M272.36 130.20L272.36 133.36" fill="none" stroke="#8e8e0a" stroke-width="1.1"/>
<path d="M272.46 130.44L275.63 130.44M274.05 128.85L274.05 132.02" fill="none" stroke="#8e8e0a" stroke-width="1.1"/>
<path d="M274.16 128.29L277.32 128.29M275.74 126.71L275.74 129.88" fill="none" stroke="#8e8e0a" stroke-width="1.1"/>
<path d="M275.85 126.14L279.02 126.14M277.43 124.56L277.43 127.72" fill="none" stroke="#8e8e0a" stroke-width="1.1"/>
<path d="M277.54 124.52L280.71 124.52M279.12 122.94L279.12 126.11" fill="none" stroke="#8e8e0a" stroke-width="1.1"/>
<path d="M279.23 122.28L282.40 122.28M280.81 120.70L280.81 123.87" fill="none" stroke="#8e8e0a" stroke-width="1.1"/>
<path d="M279.79 120.93L282.96 120.93M281.38 119.35L281.38 122.52" fill="none" stroke="#8e8e0a" stroke-width="1.1"/>
<path d="M280.98 118.49L284.15 118.49M282.56 116.90L282.56 120.07" fill="none" stroke="#8e8e0a" stroke-width="1.1"/>
<path d="M282.16 116.55L285.33 116.55M283.75 114.97L283.75 118.14" fill="none" stroke="#8e8e0a" stroke-width="1.1"/>
<path d="M283.35 114.62L286.51 114.62M284.93 113.04L284.93 116.20" fill="none" stroke="#8e8e0a" stroke-width="1.1"/>
<path d="M284.53 112.15L287.70 112.15M286.11 110.57L286.11 113.74" fill="none" stroke="#8e8e0a" stroke-width="1.1"/>
<path d="M285.71 109.46L288.88 109.46M287.30 107.88L287.30 111.04" fill="none" stroke="#8e8e0a" stroke-width="1.1"/>
<path d="M286.90 106.50L290.07 106.50M288.48 104.92L288.48 108.09" fill="none" stroke="#8e8e0a" stroke-width="1.1"/>
<path d="M288.08 103.71L291.25 103.71M289.67 102.12L289.67 105.29" fill="none" stroke="#8e8e0a" stroke-width="1.1"/>
<path d="M289.27 100.61L292.43 100.61M290.85 99.03L290.85 102.20" fill="none" stroke="#8e8e0a" stroke-width="1.1"/>
<path d="M290.45 97.13L293.62 97.13M292.03 95.55L292.03 98.72" fill="none" stroke="#8e8e0a" stroke-width="1.1"/>
<path d="M291.63 93.87L294.80 93.87M293.22 92.28L293.22 95.45" fill="none" stroke="#8e8e0a" stroke-width="1.1"/>
<path d="M292.82 89.80L295.99 89.80M294.40 88.22L294.40 91.38" fill="none" stroke="#8e8e0a" stroke-width="1.1"/>
<path d="M294.00 86.01L297.17 86.01M295.59 84.42L295.59 87.59" fill="none" stroke="#8e8e0a" stroke-width="1.1"/>
<path d="M295.19 82.61L298.35 82.61M296.77 81.03L296.77 84.19" fill="none" stroke="#8e8e0a" stroke-width="1.1"/>
<path d="M296.37 79.84L299.54 79.84M297.95 78.25L297.95 81.42" fill="none" stroke="#8e8e0a" stroke-width="1.1"/>
<path d="M297.55 75.59L300.72 75.59M299.14 74.01L299.14 77.17" fill="none" stroke="#8e8e0a" stroke-width="1.1"/>
<path d="M298.74 70.60L301.91 70.60M300.32 69.01L300.32 72.18" fill="none" stroke="#8e8e0a" stroke-width="1.1"/>
<path d="M299.92 66.94L303.09 66.94M301.51 65.35L301.51 68.52" fill="none" stroke="#8e8e0a" stroke-width="1.1"/>
<path d="M301.11 62.80L304.27 62.80M302.69 61.21L302.69 64.38" fill="none" stroke="#8e8e0a" stroke-width="1.1"/>
<path d="M302.29 58.75L305.46 58.75M303.87 57.16L303.87 60.33" fill="none" stroke="#8e8e0a" stroke-width="1.1"/>
<path d="M303.47 55.53L306.64 55.53M305.06 53.95L305.06 57.12" fill="none" stroke="#8e8e0a" stroke-width="1.1"/>
<path d="M304.66 51.51L307.83 51.51M306.24 49.92L306.24 53.09" fill="none" stroke="#8e8e0a" stroke-width="1.1"/>
<path d="M305.84 47.23L309.01 47.23M307.43 45.64L307.43 48.81" fill="none" stroke="#8e8e0a" stroke-width="1.1"/>
<path d="M307.03 43.32L310.19 43.32M308.61 41.73L308.61 44.90" fill="none" stroke="#8e8e0a" stroke-width="1.1"/>
<path d="M308.21 40.34L311.38 40.34M309.79 38.75L309.79 41.92" fill="none" stroke="#8e8e0a" stroke-width="1.1"/>
<path d="M309.39 37.91L312.56 37.91M310.98 36.33L310.98 39.49" fill="none" stroke="#8e8e0a" stroke-width="1.1"/>
<path d="M310.24 36.65L313.41 36.65M311.82 35.07L311.82 38.24" fill="none" stroke="#8e8e0a" stroke-width="1.1"/>
<path d="M315.31 33.85L318.48 33.85M316.90 32.26L316.90 35.43" fill="none" stroke="#8e8e0a" stroke-width="1.1"/>
<path d="M320.39 33.83L323.56 33.83M321.97 32.24L321.97 35.41" fill="none" stroke="#8e8e0a" stroke-width="1.1"/>
<path d="M325.46 33.81L328.63 33.81M327.05 32.22L327.05 35.39" fill="none" stroke="#8e8e0a" stroke-width="1.1"/>
<path d="M330.54 33.79L333.70 33.79M332.12 32.20L332.12 35.37" fill="none" stroke="#8e8e0a" stroke-width="1.1"/>
<path d="M335.61 33.77L338.78 33.77M337.19 32.18L337.19 35.35" fill="none" stroke="#8e8e0a" stroke-width="1.1"/>
<path d="M340.68 33.75L343.85 33.75M342.27 32.16L342.27 35.33" fill="none" stroke="#8e8e0a" stroke-width="1.1"/>
<path d="M345.76 33.73L348.93 33.73M347.34 32.14L347.34 35.31" fill="none" stroke="#8e8e0a" stroke-width="1.1"/>
<path d="M350.83 33.71L354.00 33.71M352.42 32.12L352.42 35.29" fill="none" stroke="#8e8e0a" stroke-width="1.1"/>
<path d="M355.91 33.69L359.07 33.69M357.49 32.10L357.49 35.27" fill="none" stroke="#8e8e0a" stroke-width="1.1"/>
<path d="M360.98 33.67L364.15 33.67M362.57 32.09L362.57 35.25" fill="none" stroke="#8e8e0a" stroke-width="1.1"/>
<path d="M366.06 33.65L369.22 33.65M367.64 32.07L367.64 35.23" fill="none" stroke="#8e8e0a" stroke-width="1.1"/>
<path d="M371.13 33.63L374.30 33.63M372.71 32.05L372.71 35.21" fill="none" stroke="#8e8e0a" stroke-width="1.1"/>
<path d="M376.20 33.61L379.37 33.61M377.79 32.03L377.79 35.19" fill="none" stroke="#8e8e0a" stroke-width="1.1"/>
<path d="M381.28 33.59L384.45 33.59M382.86 32.01L382.86 35.17" fill="none" stroke="#8e8e0a" stroke-width="1.1"/>
<path d="M386.35 33.57L389.52 33.57M387.94 31.99L387.94 35.15" fill="none" stroke="#8e8e0a" stroke-width="1.1"/>
<rect x="126.73" y="39.03" width="2.59" height="2.59" fill="none" stroke="#900a90" stroke-width="1"/>
<rect x="131.46" y="39.03" width="2.59" height="2.59" fill="none" stroke="#900a90" stroke-width="1"/>
<rect x="136.20" y="39.03" width="2.59" height="2.59" fill="none" stroke="#900a90" stroke-width="1"/>
<rect x="140.94" y="39.03" width="2.59" height="2.59" fill="none" stroke="#900a90" stroke-width="1"/>
<rect x="145.67" y="39.03" width="2.59" height="2.59" fill="none" stroke="#900a90" stroke-width="1"/>
<rect x="150.41" y="39.03" width="2.59" height="2.59" fill="none" stroke="#900a90" stroke-width="1"/>
<rect x="155.14" y="39.03" width="2.59" height="2.59" fill="none" stroke="#900a90" stroke-width="1"/>
<rect x="159.88" y="39.03" width="2.59" height="2.59" fill="none" stroke="#900a90" stroke-width="1"/>
<rect x="164.62" y="39.03" width="2.59" height="2.59" fill="none" stroke="#900a90" stroke-width="1"/>
<rect x="169.35" y="39.03" width="2.59" height="2.59" fill="none" stroke="#900a90" stroke-width="1"/>
<rect x="174.09" y="39.03" width="2.59" height="2.59" fill="none" stroke="#900a90" stroke-width="1"/>
<rect x="178.82" y="39.03" width="2.59" height="2.59" fill="none" stroke="#900a90" stroke-width="1"/>
<rect x="183.56" y="39.03" width="2.59" height="2.59" fill="none" stroke="#900a90" stroke-width="1"/>
<rect x="188.30" y="39.03" width="2.59" height="2.59" fill="none" stroke="#900a90" stroke-width="1"/>
<rect x="193.03" y="39.03" width="2.59" height="2.59" fill="none" stroke="#900a90" stroke-width="1"/>
<rect x="197.77" y="39.03" width="2.59" height="2.59" fill="none" stroke="#900a90" stroke-width="1"/>
<rect x="202.50" y="39.03" width="2.59" height="2.59" fill="none" stroke="#900a90" stroke-width="1"/>
<rect x="207.24" y="39.03" width="2.59" height="2.59" fill="none" stroke="#900a90" stroke-width="1"/>
<rect x="211.97" y="39.03" width="2.59" height="2.59" fill="none" stroke="#900a90" stroke-width="1"/>
<rect x="216.71" y="39.03" width="2.59" height="2.59" fill="none" stroke="#900a90" stroke-width="1"/>
<rect x="221.45" y="39.03" width="2.59" height="2.59" fill="none" stroke="#900a90" stroke-width="1"/>
<rect x="226.18" y="39.03" width="2.59" height="2.59" fill="none" stroke="#900a90" stroke-width="1"/>
<rect x="230.92" y="39.03" width="2.59" height="2.59" fill="none" stroke="#900a90" stroke-width="1"/>
<rect x="235.65" y="39.03" width="2.59" height="2.59" fill="none" stroke="#900a90" stroke-width="1"/>
<rect x="240.39" y="39.03" width="2.59" height="2.59" fill="none" stroke="#900a90" stroke-width="1"/>
<rect x="245.13" y="39.03" width="2.59" height="2.59" fill="none" stroke="#900a90" stroke-width="1"/>
<rect x="249.86" y="39.03" width="2.59" height="2.59" fill="none" stroke="#900a90" stroke-width="1"/>
<rect x="254.60" y="39.03" width="2.59" height="2.59" fill="none" stroke="#900a90" stroke-width="1"/>
<rect x="126.28" y="161.81" width="2.59" height="2.59" fill="none" stroke="#900a90" stroke-width="1"/>
<rect x="131.35" y="161.69" width="2.59" height="2.59" fill="none" stroke="#900a90" stroke-width="1"/>
<rect x="136.43" y="161.57" width="2.59" height="2.59" fill="none" stroke="#900a90" stroke-width="1"/>
<rect x="141.50" y="161.45" width="2.59" height="2.59" fill="none" stroke="#900a90" stroke-width="1"/>
<rect x="146.57" y="161.33" width="2.59" height="2.59" fill="none" stroke="#900a90" stroke-width="1"/>
<rect x="151.65" y="161.20" width="2.59" height="2.59" fill="none" stroke="#900a90" stroke-width="1"/>
<rect x="156.72" y="161.01" width="2.59" height="2.59" fill="none" stroke="#900a90" stroke-width="1"/>
<rect x="161.80" y="160.82" width="2.59" height="2.59" fill="none" stroke="#900a90" stroke-width="1"/>
<rect x="161.91" y="160.81" width="2.59" height="2.59" fill="none" stroke="#900a90" stroke-width="1"/>
<rect x="166.53" y="160.64" width="2.59" height="2.59" fill="none" stroke="#900a90" stroke-width="1"/>
<rect x="171.16" y="160.47" width="2.59" height="2.59" fill="none" stroke="#900a90" stroke-width="1"/>
<rect x="175.78" y="160.28" width="2.59" height="2.59" fill="none" stroke="#900a90" stroke-width="1"/>
<rect x="180.40" y="160.07" width="2.59" height="2.59" fill="none" stroke="#900a90" stroke-width="1"/>
<rect x="185.03" y="159.87" width="2.59" height="2.59" fill="none" stroke="#900a90" stroke-width="1"/>
<rect x="189.65" y="159.67" width="2.59" height="2.59" fill="none" stroke="#900a90" stroke-width="1"/>
<rect x="194.27" y="159.47" width="2.59" height="2.59" fill="none" stroke="#900a90" stroke-width="1"/>
<rect x="198.89" y="159.24" width="2.59" height="2.59" fill="none" stroke="#900a90" stroke-width="1"/>
<rect x="203.52" y="158.66" width="2.59" height="2.59" fill="none" stroke="#900a90" stroke-width="1"/>
<rect x="208.14" y="157.98" width="2.59" height="2.59" fill="none" stroke="#900a90" stroke-width="1"/>
<rect x="212.76" y="157.14" width="2.59" height="2.59" fill="none" stroke="#900a90" stroke-width="1"/>
<rect x="217.39" y="156.20" width="2.59" height="2.59" fill="none" stroke="#900a90" stroke-width="1"/>
<rect x="222.01" y="154.89" width="2.59" height="2.59" fill="none" stroke="#900a90" stroke-width="1"/>
<rect x="225.51" y="153.78" width="2.59" height="2.59" fill="none" stroke="#900a90" stroke-width="1"/>
<rect x="229.45" y="151.67" width="2.59" height="2.59" fill="none" stroke="#900a90" stroke-width="1"/>
<rect x="232.72" y="149.42" width="2.59" height="2.59" fill="none" stroke="#900a90" stroke-width="1"/>
<rect x="234.98" y="147.87" width="2.59" height="2.59" fill="none" stroke="#900a90" stroke-width="1"/>
<rect x="236.67" y="146.18" width="2.59" height="2.59" fill="none" stroke="#900a90" stroke-width="1"/>
<rect x="239.38" y="140.83" width="2.59" height="2.59" fill="none" stroke="#900a90" stroke-width="1"/>
<rect x="240.84" y="137.31" width="2.59" height="2.59" fill="none" stroke="#900a90" stroke-width="1"/>
<rect x="241.97" y="130.41" width="2.59" height="2.59" fill="none" stroke="#900a90" stroke-width="1"/>
<rect x="242.65" y="126.04" width="2.59" height="2.59" fill="none" stroke="#900a90" stroke-width="1"/>
<rect x="243.77" y="120.84" width="2.59" height="2.59" fill="none" stroke="#900a90" stroke-width="1"/>
<rect x="244.90" y="113.37" width="2.59" height="2.59" fill="none" stroke="#900a90" stroke-width="1"/>
<rect x="246.37" y="104.64" width="2.59" height="2.59" fill="none" stroke="#900a90" stroke-width="1"/>
<rect x="247.61" y="94.08" width="2.59" height="2.59" fill="none" stroke="#900a90" stroke-width="1"/>
<rect x="249.64" y="75.22" width="2.59" height="2.59" fill="none" stroke="#900a90" stroke-width="1"/>
<rect x="250.99" y="67.19" width="2.59" height="2.59" fill="none" stroke="#900a90" stroke-width="1"/>
<rect x="252.46" y="55.22" width="2.59" height="2.59" fill="none" stroke="#900a90" stroke-width="1"/>
<rect x="254.26" y="50.72" width="2.59" height="2.59" fill="none" stroke="#900a90" stroke-width="1"/>
<rect x="256.40" y="44.94" width="2.59" height="2.59" fill="none" stroke="#900a90" stroke-width="1"/>
<rect x="258.09" y="40.72" width="2.59" height="2.59" fill="none" stroke="#900a90" stroke-width="1"/>
<rect x="259.79" y="39.03" width="2.59" height="2.59" fill="none" stroke="#900a90" stroke-width="1"/>
<rect x="262.04" y="38.61" width="2.59" height="2.59" fill="none" stroke="#900a90" stroke-width="1"/>
<rect x="264.30" y="38.61" width="2.59" height="2.59" fill="none" stroke="#900a90" stroke-width="1"/>
<rect x="267.34" y="38.61" width="2.59" height="2.59" fill="none" stroke="#900a90" stroke-width="1"/>
<rect x="270.38" y="38.61" width="2.59" height="2.59" fill="none" stroke="#900a90" stroke-width="1"/>
<rect x="273.43" y="38.61" width="2.59" height="2.59" fill="none" stroke="#900a90" stroke-width="1"/>
<rect x="276.47" y="38.61" width="2.59" height="2.59" fill="none" stroke="#900a90" stroke-width="1"/>
<rect x="279.52" y="38.61" width="2.59" height="2.59" fill="none" stroke="#900a90" stroke-width="1"/>
<rect x="282.56" y="38.61" width="2.59" height="2.59" fill="none" stroke="#900a90" stroke-width="1"/>
<rect x="285.61" y="38.61" width="2.59" height="2.59" fill="none" stroke="#900a90" stroke-width="1"/>
<rect x="288.65" y="38.61" width="2.59" height="2.59" fill="none" stroke="#900a90" stroke-width="1"/>
<rect x="291.70" y="38.61" width="2.59" height="2.59" fill="none" stroke="#900a90" stroke-width="1"/>
<rect x="294.74" y="38.61" width="2.59" height="2.59" fill="none" stroke="#900a90" stroke-width="1"/>
<rect x="297.79" y="38.61" width="2.59" height="2.59" fill="none" stroke="#900a90" stroke-width="1"/>
<rect x="300.83" y="38.61" width="2.59" height="2.59" fill="none" stroke="#900a90" stroke-width="1"/>
<rect x="303.87" y="38.61" width="2.59" height="2.59" fill="none" stroke="#900a90" stroke-width="1"/>
<rect x="306.92" y="38.61" width="2.59" height="2.59" fill="none" stroke="#900a90" stroke-width="1"/>
<rect x="309.96" y="38.61" width="2.59" height="2.59" fill="none" stroke="#900a90" stroke-width="1"/>
<rect x="313.01" y="38.61" width="2.59" height="2.59" fill="none" stroke="#900a90" stroke-width="1"/>
<rect x="316.05" y="38.61" width="2.59" height="2.59" fill="none" stroke="#900a90" stroke-width="1"/>
<rect x="319.10" y="38.61" width="2.59" height="2.59" fill="none" stroke="#900a90" stroke-width="1"/>
<rect x="322.14" y="38.61" width="2.59" height="2.59" fill="none" stroke="#900a90" stroke-width="1"/>
<rect x="325.19" y="38.61" width="2.59" height="2.59" fill="none" stroke="#900a90" stroke-width="1"/>
<rect x="328.23" y="38.61" width="2.59" height="2.59" fill="none" stroke="#900a90" stroke-width="1"/>
<rect x="331.28" y="38.61" width="2.59" height="2.59" fill="none" stroke="#900a90" stroke-width="1"/>
<circle cx="128.02" cy="39.62" r="1.33" fill="#8b0505"/>
<circle cx="132.76" cy="39.62" r="1.33" fill="#8b0505"/>
<circle cx="137.50" cy="39.62" r="1.33" fill="#8b0505"/>
<circle cx="142.23" cy="39.62" r="1.33" fill="#8b0505"/>
<circle cx="146.97" cy="39.62" r="1.33" fill="#8b0505"/>
<circle cx="151.70" cy="39.62" r="1.33" fill="#8b0505"/>
<circle cx="156.44" cy="39.62" r="1.33" fill="#8b0505"/>
<circle cx="161.18" cy="39.62" r="1.33" fill="#8b0505"/>
<circle cx="165.91" cy="39.62" r="1.33" fill="#8b0505"/>
<circle cx="170.65" cy="39.62" r="1.33" fill="#8b0505"/>
<circle cx="175.38" cy="39.62" r="1.33" fill="#8b0505"/>
<circle cx="180.12" cy="39.62" r="1.33" fill="#8b0505"/>
<circle cx="184.86" cy="39.62" r="1.33" fill="#8b0505"/>
<circle cx="189.59" cy="39.62" r="1.33" fill="#8b0505"/>
<circle cx="194.33" cy="39.62" r="1.33" fill="#8b0505"/>
<circle cx="199.06" cy="39.62" r="1.33" fill="#8b0505"/>
<circle cx="203.80" cy="39.62" r="1.33" fill="#8b0505"/>
<circle cx="208.54" cy="39.62" r="1.33" fill="#8b0505"/>
<circle cx="213.27" cy="39.62" r="1.33" fill="#8b0505"/>
<circle cx="218.01" cy="39.62" r="1.33" fill="#8b0505"/>
<circle cx="222.74" cy="39.62" r="1.33" fill="#8b0505"/>
<circle cx="227.48" cy="39.62" r="1.33" fill="#8b0505"/>
<circle cx="232.21" cy="39.62" r="1.33" fill="#8b0505"/>
<circle cx="236.95" cy="39.62" r="1.33" fill="#8b0505"/>
<circle cx="241.69" cy="39.62" r="1.33" fill="#8b0505"/>
<circle cx="246.42" cy="39.62" r="1.33" fill="#8b0505"/>
<circle cx="251.16" cy="39.62" r="1.33" fill="#8b0505"/>
<circle cx="127.57" cy="112.56" r="1.33" fill="#8b0505"/>
<circle cx="132.65" cy="112.48" r="1.33" fill="#8b0505"/>
<circle cx="137.72" cy="112.40" r="1.33" fill="#8b0505"/>
<circle cx="142.80" cy="112.31" r="1.33" fill="#8b0505"/>
<circle cx="147.87" cy="112.23" r="1.33" fill="#8b0505"/>
<circle cx="152.94" cy="112.15" r="1.33" fill="#8b0505"/>
<circle cx="158.02" cy="112.07" r="1.33" fill="#8b0505"/>
<circle cx="163.09" cy="111.99" r="1.33" fill="#8b0505"/>
<circle cx="163.21" cy="111.99" r="1.33" fill="#8b0505"/>
<circle cx="166.70" cy="111.88" r="1.33" fill="#8b0505"/>
<circle cx="170.20" cy="111.78" r="1.33" fill="#8b0505"/>
<circle cx="173.69" cy="111.68" r="1.33" fill="#8b0505"/>
<circle cx="177.19" cy="111.57" r="1.33" fill="#8b0505"/>
<circle cx="177.64" cy="111.56" r="1.33" fill="#8b0505"/>
<circle cx="182.26" cy="111.42" r="1.33" fill="#8b0505"/>
<circle cx="186.89" cy="111.29" r="1.33" fill="#8b0505"/>
<circle cx="191.51" cy="111.15" r="1.33" fill="#8b0505"/>
<circle cx="196.13" cy="111.01" r="1.33" fill="#8b0505"/>
<circle cx="200.75" cy="110.88" r="1.33" fill="#8b0505"/>
<circle cx="205.38" cy="110.18" r="1.33" fill="#8b0505"/>
<circle cx="210.00" cy="109.72" r="1.33" fill="#8b0505"/>
<circle cx="214.62" cy="108.96" r="1.33" fill="#8b0505"/>
<circle cx="219.25" cy="107.96" r="1.33" fill="#8b0505"/>
<circle cx="223.87" cy="107.15" r="1.33" fill="#8b0505"/>
<circle cx="228.49" cy="105.86" r="1.33" fill="#8b0505"/>
<circle cx="231.88" cy="104.67" r="1.33" fill="#8b0505"/>
<circle cx="234.02" cy="103.55" r="1.33" fill="#8b0505"/>
<circle cx="236.27" cy="102.00" r="1.33" fill="#8b0505"/>
<circle cx="237.74" cy="100.45" r="1.33" fill="#8b0505"/>
<circle cx="239.09" cy="98.76" r="1.33" fill="#8b0505"/>
<circle cx="240.11" cy="96.51" r="1.33" fill="#8b0505"/>
<circle cx="241.24" cy="94.25" r="1.33" fill="#8b0505"/>
<circle cx="242.36" cy="91.86" r="1.33" fill="#8b0505"/>
<circle cx="243.72" cy="85.38" r="1.33" fill="#8b0505"/>
<circle cx="244.96" cy="80.88" r="1.33" fill="#8b0505"/>
<circle cx="245.97" cy="75.81" r="1.33" fill="#8b0505"/>
<circle cx="246.87" cy="69.89" r="1.33" fill="#8b0505"/>
<circle cx="248.00" cy="63.70" r="1.33" fill="#8b0505"/>
<circle cx="249.35" cy="58.49" r="1.33" fill="#8b0505"/>
<circle cx="250.37" cy="53.98" r="1.33" fill="#8b0505"/>
<circle cx="252.06" cy="49.76" r="1.33" fill="#8b0505"/>
<circle cx="253.75" cy="46.24" r="1.33" fill="#8b0505"/>
<circle cx="255.44" cy="42.72" r="1.33" fill="#8b0505"/>
<circle cx="257.13" cy="40.33" r="1.33" fill="#8b0505"/>
<circle cx="258.83" cy="39.62" r="1.33" fill="#8b0505"/>
<circle cx="259.95" cy="39.62" r="1.33" fill="#8b0505"/>
<circle cx="261.19" cy="39.62" r="1.33" fill="#8b0505"/>
<circle cx="262.43" cy="39.62" r="1.33" fill="#8b0505"/>
<circle cx="263.67" cy="39.62" r="1.33" fill="#8b0505"/>
<circle cx="264.92" cy="39.62" r="1.33" fill="#8b0505"/>
<circle cx="266.16" cy="39.62" r="1.33" fill="#8b0505"/>
<circle cx="267.40" cy="39.62" r="1.33" fill="#8b0505"/>
<circle cx="268.64" cy="39.62" r="1.33" fill="#8b0505"/>
<circle cx="269.88" cy="39.62" r="1.33" fill="#8b0505"/>
<circle cx="271.12" cy="39.62" r="1.33" fill="#8b0505"/>
<circle cx="272.36" cy="39.62" r="1.33" fill="#8b0505"/>
<circle cx="273.60" cy="39.62" r="1.33" fill="#8b0505"/>
<circle cx="274.84" cy="39.62" r="1.33" fill="#8b0505"/>
<circle cx="276.08" cy="39.62" r="1.33" fill="#8b0505"/>
<circle cx="277.32" cy="39.62" r="1.33" fill="#8b0505"/>
<circle cx="278.56" cy="39.62" r="1.33" fill="#8b0505"/>
<circle cx="279.80" cy="39.62" r="1.33" fill="#8b0505"/>
<circle cx="281.04" cy="39.62" r="1.33" fill="#8b0505"/>
<circle cx="282.28" cy="39.62" r="1.33" fill="#8b0505"/>
<circle cx="283.52" cy="39.62" r="1.33" fill="#8b0505"/>
<circle cx="284.76" cy="39.62" r="1.33" fill="#8b0505"/>
<circle cx="286.00" cy="39.62" r="1.33" fill="#8b0505"/>
<circle cx="287.24" cy="39.62" r="1.33" fill="#8b0505"/>
<circle cx="288.48" cy="39.62" r="1.33" fill="#8b0505"/>
<circle cx="289.72" cy="39.62" r="1.33" fill="#8b0505"/>
<circle cx="290.96" cy="39.62" r="1.33" fill="#8b0505"/>
<circle cx="292.20" cy="39.62" r="1.33" fill="#8b0505"/>
<circle cx="293.44" cy="39.62" r="1.33" fill="#8b0505"/>
<circle cx="294.68" cy="39.62" r="1.33" fill="#8b0505"/>
<circle cx="295.92" cy="39.62" r="1.33" fill="#8b0505"/>
<circle cx="297.16" cy="39.62" r="1.33" fill="#8b0505"/>
<circle cx="298.40" cy="39.62" r="1.33" fill="#8b0505"/>
<circle cx="299.65" cy="39.62" r="1.33" fill="#8b0505"/>
<circle cx="300.89" cy="39.62" r="1.33" fill="#8b0505"/>
<circle cx="302.13" cy="39.62" r="1.33" fill="#8b0505"/>
<circle cx="303.37" cy="39.62" r="1.33" fill="#8b0505"/>
<circle cx="304.61" cy="39.62" r="1.33" fill="#8b0505"/>
<circle cx="305.85" cy="39.62" r="1.33" fill="#8b0505"/>
<circle cx="307.09" cy="39.62" r="1.33" fill="#8b0505"/>
<circle cx="308.33" cy="39.62" r="1.33" fill="#8b0505"/>
<path d="M126.88 35.50L130.30 38.92M126.88 38.92L130.30 35.50" fill="none" stroke="#0a8e8e" stroke-width="1.1"/>
<path d="M137.03 35.49L140.45 38.91M137.03 38.91L140.45 35.49" fill="none" stroke="#0a8e8e" stroke-width="1.1"/>
<path d="M147.17 35.48L150.59 38.90M147.17 38.90L150.59 35.48" fill="none" stroke="#0a8e8e" stroke-width="1.1"/>
<path d="M157.32 35.47L160.74 38.89M157.32 38.89L160.74 35.47" fill="none" stroke="#0a8e8e" stroke-width="1.1"/>
<path d="M167.47 35.46L170.89 38.88M167.47 38.88L170.89 35.46" fill="none" stroke="#0a8e8e" stroke-width="1.1"/>
<path d="M177.62 35.45L181.04 38.87M177.62 38.87L181.04 35.45" fill="none" stroke="#0a8e8e" stroke-width="1.1"/>
<path d="M187.77 35.44L191.19 38.86M187.77 38.86L191.19 35.44" fill="none" stroke="#0a8e8e" stroke-width="1.1"/>
<path d="M197.92 35.43L201.34 38.85M197.92 38.85L201.34 35.43" fill="none" stroke="#0a8e8e" stroke-width="1.1"/>
<path d="M208.07 35.42L211.49 38.84M208.07 38.84L211.49 35.42" fill="none" stroke="#0a8e8e" stroke-width="1.1"/>
<path d="M218.21 35.41L221.63 38.83M218.21 38.83L221.63 35.41" fill="none" stroke="#0a8e8e" stroke-width="1.1"/>
<path d="M228.36 35.40L231.78 38.82M228.36 38.82L231.78 35.40" fill="none" stroke="#0a8e8e" stroke-width="1.1"/>
<path d="M238.51 35.39L241.93 38.81M238.51 38.81L241.93 35.39" fill="none" stroke="#0a8e8e" stroke-width="1.1"/>
<path d="M248.66 35.38L252.08 38.80M248.66 38.80L252.08 35.38" fill="none" stroke="#0a8e8e" stroke-width="1.1"/>
<path d="M258.81 35.37L262.23 38.79M258.81 38.79L262.23 35.37" fill="none" stroke="#0a8e8e" stroke-width="1.1"/>
<path d="M268.96 35.35L272.38 38.77M268.96 38.77L272.38 35.35" fill="none" stroke="#0a8e8e" stroke-width="1.1"/>
<path d="M279.10 35.34L282.52 38.76M279.10 38.76L282.52 35.34" fill="none" stroke="#0a8e8e" stroke-width="1.1"/>
<path d="M289.25 35.33L292.67 38.75M289.25 38.75L292.67 35.33" fill="none" stroke="#0a8e8e" stroke-width="1.1"/>
<path d="M299.40 35.32L302.82 38.74M299.40 38.74L302.82 35.32" fill="none" stroke="#0a8e8e" stroke-width="1.1"/>
<path d="M309.55 35.31L312.97 38.73M309.55 38.73L312.97 35.31" fill="none" stroke="#0a8e8e" stroke-width="1.1"/>
<path d="M319.70 35.30L323.12 38.72M319.70 38.72L323.12 35.30" fill="none" stroke="#0a8e8e" stroke-width="1.1"/>
<path d="M329.85 35.29L333.27 38.71M329.85 38.71L333.27 35.29" fill="none" stroke="#0a8e8e" stroke-width="1.1"/>
<path d="M339.99 35.28L343.41 38.70M339.99 38.70L343.41 35.28" fill="none" stroke="#0a8e8e" stroke-width="1.1"/>
<path d="M350.14 35.27L353.56 38.69M350.14 38.69L353.56 35.27" fill="none" stroke="#0a8e8e" stroke-width="1.1"/>
<path d="M360.29 35.26L363.71 38.68M360.29 38.68L363.71 35.26" fill="none" stroke="#0a8e8e" stroke-width="1.1"/>
<path d="M370.44 35.25L373.86 38.67M370.44 38.67L373.86 35.25" fill="none" stroke="#0a8e8e" stroke-width="1.1"/>
<path d="M380.59 35.24L384.01 38.66M380.59 38.66L384.01 35.24" fill="none" stroke="#0a8e8e" stroke-width="1.1"/>
<path d="M128.20 34.9L129.80 31.4L131.40 34.9Z" fill="none" stroke="#ff0a0a" stroke-width="0.95"/>
<path d="M134.34 34.9L135.94 31.4L137.54 34.9Z" fill="none" stroke="#ff0a0a" stroke-width="0.95"/>
<path d="M140.48 34.9L142.08 31.4L143.68 34.9Z" fill="none" stroke="#ff0a0a" stroke-width="0.95"/>
<path d="M146.62 34.9L148.22 31.4L149.82 34.9Z" fill="none" stroke="#ff0a0a" stroke-width="0.95"/>
<path d="M152.76 34.9L154.36 31.4L155.96 34.9Z" fill="none" stroke="#ff0a0a" stroke-width="0.95"/>
<path d="M158.90 34.9L160.50 31.4L162.10 34.9Z" fill="none" stroke="#ff0a0a" stroke-width="0.95"/>
<path d="M165.04 34.9L166.64 31.4L168.24 34.9Z" fill="none" stroke="#ff0a0a" stroke-width="0.95"/>
<path d="M171.18 34.9L172.78 31.4L174.38 34.9Z" fill="none" stroke="#ff0a0a" stroke-width="0.95"/>
<path d="M177.32 34.9L178.92 31.4L180.52 34.9Z" fill="none" stroke="#ff0a0a" stroke-width="0.95"/>
<path d="M183.46 34.9L185.06 31.4L186.66 34.9Z" fill="none" stroke="#ff0a0a" stroke-width="0.95"/>
<path d="M189.36 34.9L190.96 31.4L192.56 34.9Z" fill="none" stroke="#ff0a0a" stroke-width="0.95"/>
<path d="M195.26 34.9L196.86 31.4L198.46 34.9Z" fill="none" stroke="#ff0a0a" stroke-width="0.95"/>
<path d="M201.16 34.9L202.76 31.4L204.36 34.9Z" fill="none" stroke="#ff0a0a" stroke-width="0.95"/>
<path d="M207.06 34.9L208.66 31.4L210.26 34.9Z" fill="none" stroke="#ff0a0a" stroke-width="0.95"/>
<path d="M212.96 34.9L214.56 31.4L216.16 34.9Z" fill="none" stroke="#ff0a0a" stroke-width="0.95"/>
<path d="M218.86 34.9L220.46 31.4L222.06 34.9Z" fill="none" stroke="#ff0a0a" stroke-width="0.95"/>
<path d="M224.76 34.9L226.36 31.4L227.96 34.9Z" fill="none" stroke="#ff0a0a" stroke-width="0.95"/>
<path d="M230.66 34.9L232.26 31.4L233.86 34.9Z" fill="none" stroke="#ff0a0a" stroke-width="0.95"/>
<path d="M236.56 34.9L238.16 31.4L239.76 34.9Z" fill="none" stroke="#ff0a0a" stroke-width="0.95"/>
<path d="M242.46 34.9L244.06 31.4L245.66 34.9Z" fill="none" stroke="#ff0a0a" stroke-width="0.95"/>
<path d="M248.36 34.9L249.96 31.4L251.56 34.9Z" fill="none" stroke="#ff0a0a" stroke-width="0.95"/>
<path d="M254.26 34.9L255.86 31.4L257.46 34.9Z" fill="none" stroke="#ff0a0a" stroke-width="0.95"/>
<path d="M260.26 34.9L261.86 31.4L263.46 34.9Z" fill="none" stroke="#ff0a0a" stroke-width="0.95"/>
<path d="M266.26 34.9L267.86 31.4L269.46 34.9Z" fill="none" stroke="#ff0a0a" stroke-width="0.95"/>
<path d="M272.26 34.9L273.86 31.4L275.46 34.9Z" fill="none" stroke="#ff0a0a" stroke-width="0.95"/>
<path d="M278.26 34.9L279.86 31.4L281.46 34.9Z" fill="none" stroke="#ff0a0a" stroke-width="0.95"/>
<path d="M284.26 34.9L285.86 31.4L287.46 34.9Z" fill="none" stroke="#ff0a0a" stroke-width="0.95"/>
<path d="M290.26 34.9L291.86 31.4L293.46 34.9Z" fill="none" stroke="#ff0a0a" stroke-width="0.95"/>
<path d="M296.26 34.9L297.86 31.4L299.46 34.9Z" fill="none" stroke="#ff0a0a" stroke-width="0.95"/>
<path d="M302.26 34.9L303.86 31.4L305.46 34.9Z" fill="none" stroke="#ff0a0a" stroke-width="0.95"/>
<path d="M308.26 34.9L309.86 31.4L311.46 34.9Z" fill="none" stroke="#ff0a0a" stroke-width="0.95"/>
<path d="M314.26 34.9L315.86 31.4L317.46 34.9Z" fill="none" stroke="#ff0a0a" stroke-width="0.95"/>
<path d="M320.26 34.9L321.86 31.4L323.46 34.9Z" fill="none" stroke="#ff0a0a" stroke-width="0.95"/>
<path d="M326.26 34.9L327.86 31.4L329.46 34.9Z" fill="none" stroke="#ff0a0a" stroke-width="0.95"/>
<path d="M332.26 34.9L333.86 31.4L335.46 34.9Z" fill="none" stroke="#ff0a0a" stroke-width="0.95"/>
<path d="M338.26 34.9L339.86 31.4L341.46 34.9Z" fill="none" stroke="#ff0a0a" stroke-width="0.95"/>
<path d="M344.26 34.9L345.86 31.4L347.46 34.9Z" fill="none" stroke="#ff0a0a" stroke-width="0.95"/>
<path d="M350.26 34.9L351.86 31.4L353.46 34.9Z" fill="none" stroke="#ff0a0a" stroke-width="0.95"/>
<path d="M356.26 34.9L357.86 31.4L359.46 34.9Z" fill="none" stroke="#ff0a0a" stroke-width="0.95"/>
<path d="M362.26 34.9L363.86 31.4L365.46 34.9Z" fill="none" stroke="#ff0a0a" stroke-width="0.95"/>
<path d="M368.26 34.9L369.86 31.4L371.46 34.9Z" fill="none" stroke="#ff0a0a" stroke-width="0.95"/>
<path d="M374.26 34.9L375.86 31.4L377.46 34.9Z" fill="none" stroke="#ff0a0a" stroke-width="0.95"/>
<path d="M380.26 34.9L381.86 31.4L383.46 34.9Z" fill="none" stroke="#ff0a0a" stroke-width="0.95"/>
<path d="M386.26 34.9L387.86 31.4L389.46 34.9Z" fill="none" stroke="#ff0a0a" stroke-width="0.95"/>
</g>
<g font-family="Liberation Sans, sans-serif" font-size="10.5">
<path d="M128.10 58.00L130.70 55.40L133.30 58.00L130.70 60.60Z" fill="none" stroke="#0a0aff" stroke-width="1"/>
<text x="140.00" y="61.70" fill="#0a0aff" text-anchor="start" >0.10</text>
<circle cx="130.70" cy="70.90" r="1.65" fill="none" stroke="#0a8c0a" stroke-width="1"/>
<text x="140.00" y="74.60" fill="#0a8c0a" text-anchor="start" >0.20</text>
<rect x="128.90" y="81.50" width="3.60" height="3.60" fill="none" stroke="#900a90" stroke-width="1"/>
<text x="140.00" y="87.00" fill="#900a90" text-anchor="start" >0.30</text>
<path d="M128.50 97.87L130.70 93.25L132.90 97.87Z" fill="none" stroke="#ff0a0a" stroke-width="1.1"/>
<text x="140.00" y="99.70" fill="#ff0a0a" text-anchor="start" >0.50</text>
<path d="M174.60 55.80L179.00 60.20M174.60 60.20L179.00 55.80" fill="none" stroke="#0a8e8e" stroke-width="1.1"/>
<text x="186.00" y="61.70" fill="#0a8e8e" text-anchor="start" >0.15</text>
<path d="M174.35 70.90L179.25 70.90M176.80 68.45L176.80 73.35" fill="none" stroke="#8e8e0a" stroke-width="1.1"/>
<text x="186.00" y="74.60" fill="#8e8e0a" text-anchor="start" >0.25</text>
<path d="M174.40 83.30h4.8M175.60 81.22L178.00 85.38M175.60 85.38L178.00 81.22" stroke="#8b0505" stroke-width="1.15" fill="none"/><circle cx="176.80" cy="83.30" r="1.1" fill="#8b0505"/>
<text x="186.00" y="87.00" fill="#8b0505" text-anchor="start" >0.40</text>
</g>
<clipPath id="cb"><rect x="106.8" y="180.4" width="281.59999999999997" height="141.6"/></clipPath>
<g clip-path="url(#cb)" fill="none" stroke-width="1.1" stroke-linejoin="round">
<polyline points="110.06,232.62 110.52,232.63 110.99,232.63 111.45,232.63 111.91,232.64 112.38,232.64 112.84,232.65 113.31,232.65 113.77,232.65 114.24,232.66 114.70,232.66 115.17,232.67 115.63,232.67 116.10,232.68 116.56,232.68 117.03,232.69 117.49,232.69 117.96,232.70 118.42,232.70 118.88,232.71 119.35,232.71 119.81,232.72 120.28,232.73 120.74,232.73 121.21,232.74 121.67,232.74 122.14,232.75 122.60,232.76 123.07,232.76 123.53,232.77 124.00,232.78 124.46,232.78 124.93,232.79 125.39,232.80 125.86,232.80 126.32,232.81 126.78,232.82 127.25,232.83 127.71,232.83 128.18,232.84 128.64,232.85 129.11,232.86 129.57,232.86 130.04,232.87 130.50,232.88 130.97,232.89 131.43,232.90 131.90,232.90 132.36,232.91 132.83,232.92 133.29,232.93 133.75,232.94 134.22,232.95 134.68,232.95 135.15,232.96 135.61,232.97 136.08,232.98 136.54,232.99 137.01,233.00 137.47,233.01 137.94,233.02 138.40,233.03 138.87,233.03 139.33,233.04 139.80,233.05 140.26,233.06 140.72,233.07 141.19,233.08 141.65,233.09 142.12,233.10 142.58,233.11 143.05,233.12 143.51,233.13 143.98,233.14 144.44,233.15 144.91,233.16 145.37,233.17 145.84,233.18 146.30,233.19 146.77,233.20 147.23,233.21 147.70,233.22 148.16,233.23 148.62,233.24 149.09,233.25 149.55,233.26 150.02,233.27 150.48,233.28 150.95,233.29 151.41,233.30 151.88,233.31 152.34,233.32 152.81,233.33 153.27,233.34 153.74,233.35 154.20,233.37 154.67,233.38 155.13,233.39 155.59,233.40 156.06,233.41 156.52,233.43 156.99,233.44 157.45,233.45 157.92,233.47 158.38,233.48 158.85,233.49 159.31,233.51 159.78,233.52 160.24,233.54 160.71,233.55 161.17,233.56 161.64,233.58 162.10,233.59 162.56,233.61 163.03,233.62 163.49,233.64 163.96,233.65 164.42,233.67 164.89,233.68 165.35,233.70 165.82,233.72 166.28,233.73 166.75,233.75 167.21,233.76 167.68,233.78 168.14,233.79 168.61,233.81 169.07,233.83 169.54,233.84 170.00,233.86 170.46,233.88 170.93,233.89 171.39,233.91 171.86,233.92 172.32,233.94 172.79,233.96 173.25,233.97 173.72,233.99 174.18,234.01 174.65,234.02 175.11,234.04 175.58,234.06 176.04,234.07 176.51,234.09 176.97,234.10 177.43,234.12 177.90,234.14 178.36,234.15 178.83,234.17 179.29,234.18 179.76,234.20 180.22,234.21 180.69,234.23 181.15,234.24 181.62,234.25 182.08,234.27 182.55,234.28 183.01,234.30 183.48,234.31 183.94,234.33 184.40,234.35 184.87,234.36 185.33,234.38 185.80,234.40 186.26,234.42 186.73,234.44 187.19,234.46 187.66,234.48 188.12,234.51 188.59,234.53 189.05,234.56 189.52,234.58 189.98,234.61 190.45,234.64 190.91,234.68 191.38,234.72 191.84,234.76 192.30,234.81 192.77,234.87 193.23,234.92 193.70,234.98 194.16,235.05 194.63,235.11 195.09,235.18 195.56,235.25 196.02,235.32 196.49,235.39 196.95,235.47 197.42,235.55 197.88,235.62 198.35,235.70 198.81,235.78 199.27,235.85 199.74,235.94 200.20,236.02 200.67,236.10 201.13,236.19 201.60,236.28 202.06,236.38 202.53,236.48 202.99,236.58 203.46,236.68 203.92,236.79 204.39,236.90 204.85,237.01 205.32,237.13 205.78,237.25 206.24,237.38 206.71,237.51 207.17,237.64 207.64,237.78 208.10,237.93 208.57,238.09 209.03,238.27 209.50,238.46 209.96,238.66 210.43,238.87 210.89,239.08 211.36,239.30 211.82,239.51 212.29,239.73 212.75,239.95 213.22,240.16 213.68,240.36 214.14,240.56 214.61,240.76 215.07,240.96 215.54,241.16 216.00,241.37 216.47,241.58 216.93,241.78 217.40,241.98 217.86,242.18 218.33,242.38 218.79,242.56 219.26,242.73 219.72,242.90 220.19,243.05 220.65,243.19 221.11,243.31 221.58,243.43 222.04,243.55 222.51,243.67 222.97,243.78 223.44,243.89 223.90,244.00 224.37,244.10 224.83,244.19 225.30,244.27 225.76,244.35 226.23,244.42 226.69,244.47 227.16,244.52 227.62,244.56 228.09,244.60 228.55,244.63 229.01,244.67 229.48,244.70 229.94,244.73 230.41,244.76 230.87,244.78 231.34,244.81 231.80,244.83 232.27,244.84 232.73,244.85 233.20,244.86 233.66,244.87 234.13,244.87 234.59,244.87 235.06,244.87 235.52,244.87 235.98,244.87 236.45,244.86 236.91,244.86 237.38,244.86 237.84,244.85 238.31,244.85 238.77,244.84 239.24,244.84 239.70,244.83 240.17,244.83 240.63,244.82 241.10,244.82 241.56,244.81 242.03,244.80 242.49,244.79 242.95,244.79 243.42,244.78 243.88,244.77 244.35,244.76 244.81,244.75 245.28,244.74 245.74,244.73 246.21,244.72 246.67,244.71 247.14,244.70 247.60,244.69 248.07,244.67 248.53,244.65 249.00,244.63 249.46,244.60 249.93,244.57 250.39,244.54 250.85,244.50 251.32,244.47 251.78,244.43 252.25,244.38 252.71,244.34 253.18,244.29 253.64,244.25 254.11,244.20 254.57,244.15 255.04,244.10 255.50,244.05 255.97,244.00 256.43,243.95 256.90,243.90 257.36,243.84 257.82,243.79 258.29,243.75 258.75,243.70 259.22,243.65 259.68,243.60 260.15,243.56 260.61,243.51 261.08,243.47 261.54,243.43 262.01,243.38 262.47,243.34 262.94,243.30 263.40,243.25 263.87,243.21 264.33,243.16 264.79,243.12 265.26,243.07 265.72,243.03 266.19,242.98 266.65,242.94 267.12,242.89 267.58,242.85 268.05,242.80 268.51,242.75 268.98,242.70 269.44,242.66 269.91,242.61 270.37,242.56 270.84,242.51 271.30,242.46 271.77,242.41 272.23,242.36 272.69,242.31 273.16,242.26 273.62,242.20 274.09,242.15 274.55,242.10 275.02,242.04 275.48,241.99 275.95,241.93 276.41,241.87 276.88,241.81 277.34,241.76 277.81,241.70 278.27,241.64 278.74,241.58 279.20,241.51 279.66,241.45 280.13,241.39 280.59,241.33 281.06,241.27 281.52,241.20 281.99,241.14 282.45,241.08 282.92,241.01 283.38,240.95 283.85,240.89 284.31,240.82 284.78,240.76 285.24,240.70 285.71,240.63 286.17,240.57 286.63,240.51 287.10,240.45 287.56,240.38 288.03,240.32 288.49,240.26 288.96,240.20 289.42,240.14 289.89,240.08 290.35,240.02 290.82,239.96 291.28,239.90 291.75,239.83 292.21,239.77 292.68,239.71 293.14,239.65 293.61,239.59 294.07,239.53 294.53,239.47 295.00,239.41 295.46,239.35 295.93,239.29 296.39,239.23 296.86,239.17 297.32,239.11 297.79,239.05 298.25,238.99 298.72,238.93 299.18,238.87 299.65,238.81 300.11,238.75 300.58,238.69 301.04,238.63 301.50,238.57 301.97,238.51 302.43,238.45 302.90,238.39 303.36,238.33 303.83,238.27 304.29,238.21 304.76,238.15 305.22,238.09 305.69,238.03 306.15,237.97 306.62,237.91 307.08,237.85 307.55,237.79 308.01,237.73 308.47,237.67 308.94,237.61 309.40,237.55 309.87,237.49 310.33,237.43 310.80,237.37 311.26,237.31 311.73,237.25 312.19,237.19 312.66,237.13 313.12,237.07 313.59,237.01 314.05,236.95 314.52,236.89 314.98,236.83 315.45,236.77 315.91,236.71 316.37,236.65 316.84,236.59 317.30,236.53 317.77,236.47 318.23,236.41 318.70,236.35 319.16,236.29 319.63,236.23 320.09,236.17 320.56,236.11 321.02,236.05 321.49,235.99 321.95,235.94 322.42,235.88 322.88,235.82 323.34,235.76 323.81,235.70 324.27,235.64 324.74,235.58 325.20,235.52 325.67,235.46 326.13,235.40 326.60,235.34 327.06,235.28 327.53,235.22 327.99,235.16 328.46,235.10 328.92,235.04 329.39,234.98 329.85,234.92 330.31,234.86 330.78,234.80 331.24,234.74 331.71,234.68 332.17,234.62 332.64,234.56 333.10,234.50 333.57,234.44 334.03,234.38 334.50,234.32 334.96,234.26 335.43,234.21 335.89,234.15 336.36,234.09 336.82,234.03 337.29,233.97 337.75,233.91 338.21,233.85 338.68,233.79 339.14,233.73 339.61,233.67 340.07,233.61 340.54,233.55 341.00,233.49 341.47,233.43 341.93,233.37 342.40,233.31 342.86,233.25 343.33,233.20 343.79,233.14 344.26,233.08 344.72,233.02 345.18,232.96 345.65,232.90 346.11,232.84 346.58,232.78 347.04,232.72 347.51,232.66 347.97,232.60 348.44,232.54 348.90,232.48 349.37,232.42 349.83,232.37 350.30,232.31 350.76,232.25 351.23,232.19 351.69,232.13 352.15,232.07 352.62,232.01 353.08,231.95 353.55,231.89 354.01,231.83 354.48,231.77 354.94,231.71 355.41,231.66 355.87,231.60 356.34,231.54 356.80,231.48 357.27,231.42 357.73,231.36 358.20,231.30 358.66,231.24 359.13,231.18 359.59,231.12 360.05,231.07 360.52,231.01 360.98,230.95 361.45,230.89 361.91,230.83 362.38,230.77 362.84,230.71 363.31,230.65 363.77,230.59 364.24,230.54 364.70,230.48 365.17,230.42 365.63,230.36 366.10,230.30 366.56,230.24 367.02,230.18 367.49,230.12 367.95,230.06 368.42,230.01 368.88,229.95 369.35,229.89 369.81,229.83 370.28,229.77 370.74,229.71 371.21,229.65 371.67,229.60 372.14,229.54 372.60,229.48 373.07,229.42 373.53,229.36 373.99,229.30 374.46,229.24 374.92,229.18 375.39,229.13 375.85,229.07 376.32,229.01 376.78,228.95 377.25,228.89 377.71,228.83 378.18,228.78 378.64,228.72 379.11,228.66 379.57,228.60 380.04,228.54 380.50,228.48 380.97,228.42 381.43,228.37 381.89,228.31 382.36,228.25 382.82,228.19 383.29,228.13 383.75,228.07 384.22,228.02 384.68,227.96 385.15,227.90 385.61,227.84 386.08,227.78 386.54,227.73 387.01,227.67 387.47,227.61 387.94,227.55 388.40,227.49" stroke="#0a0aff"/>
<polyline points="110.41,257.45 110.87,253.65 111.34,249.95 111.80,246.27 112.26,242.75 112.73,239.46 113.19,236.38 113.66,234.32 114.12,232.84 114.58,231.64 115.05,230.66 115.51,229.84 115.98,229.10 116.44,228.46 116.91,227.90 117.37,227.46 117.83,227.11 118.30,226.78 118.76,226.48 119.23,226.22 119.69,225.99 120.15,225.82 120.62,225.70 121.08,225.63 121.55,225.58 122.01,225.52 122.47,225.48 122.94,225.44 123.40,225.40 123.87,225.38 124.33,225.36 124.79,225.34 125.26,225.34 125.72,225.34 126.19,225.35 126.65,225.36 127.12,225.37 127.58,225.39 128.04,225.40 128.51,225.42 128.97,225.44 129.44,225.46 129.90,225.47 130.36,225.49 130.83,225.51 131.29,225.53 131.76,225.55 132.22,225.56 132.68,225.58 133.15,225.60 133.61,225.62 134.08,225.64 134.54,225.67 135.00,225.69 135.47,225.71 135.93,225.73 136.40,225.76 136.86,225.78 137.33,225.80 137.79,225.83 138.25,225.85 138.72,225.88 139.18,225.90 139.65,225.93 140.11,225.95 140.57,225.98 141.04,226.00 141.50,226.03 141.97,226.06 142.43,226.08 142.89,226.11 143.36,226.14 143.82,226.16 144.29,226.19 144.75,226.21 145.22,226.24 145.68,226.27 146.14,226.29 146.61,226.32 147.07,226.35 147.54,226.37 148.00,226.40 148.46,226.43 148.93,226.46 149.39,226.48 149.86,226.51 150.32,226.54 150.78,226.57 151.25,226.60 151.71,226.63 152.18,226.65 152.64,226.68 153.10,226.71 153.57,226.74 154.03,226.77 154.50,226.81 154.96,226.84 155.43,226.87 155.89,226.90 156.35,226.93 156.82,226.97 157.28,227.00 157.75,227.03 158.21,227.07 158.67,227.10 159.14,227.14 159.60,227.18 160.07,227.21 160.53,227.25 160.99,227.29 161.46,227.33 161.92,227.37 162.39,227.41 162.85,227.45 163.31,227.49 163.78,227.53 164.24,227.58 164.71,227.62 165.17,227.67 165.64,227.72 166.10,227.76 166.56,227.81 167.03,227.86 167.49,227.91 167.96,227.96 168.42,228.02 168.88,228.07 169.35,228.12 169.81,228.18 170.28,228.24 170.74,228.29 171.20,228.35 171.67,228.41 172.13,228.47 172.60,228.53 173.06,228.60 173.52,228.66 173.99,228.72 174.45,228.79 174.92,228.86 175.38,228.93 175.85,229.00 176.31,229.09 176.77,229.17 177.24,229.26 177.70,229.35 178.17,229.44 178.63,229.53 179.09,229.63 179.56,229.72 180.02,229.82 180.49,229.91 180.95,230.01 181.41,230.10 181.88,230.19 182.34,230.28 182.81,230.36 183.27,230.44 183.73,230.52 184.20,230.60 184.66,230.68 185.13,230.76 185.59,230.84 186.06,230.91 186.52,230.99 186.98,231.07 187.45,231.14 187.91,231.21 188.38,231.27 188.84,231.33 189.30,231.39 189.77,231.44 190.23,231.49 190.70,231.54 191.16,231.59 191.62,231.64 192.09,231.69 192.55,231.74 193.02,231.78 193.48,231.83 193.94,231.87 194.41,231.91 194.87,231.95 195.34,231.99 195.80,232.02 196.27,232.05 196.73,232.07 197.19,232.09 197.66,232.11 198.12,232.12 198.59,232.13 199.05,232.13 199.51,232.12 199.98,232.10 200.44,232.08 200.91,232.05 201.37,232.02 201.83,231.98 202.30,231.94 202.76,231.89 203.23,231.84 203.69,231.79 204.15,231.74 204.62,231.68 205.08,231.62 205.55,231.56 206.01,231.50 206.48,231.44 206.94,231.38 207.40,231.32 207.87,231.26 208.33,231.20 208.80,231.13 209.26,231.06 209.72,230.98 210.19,230.90 210.65,230.82 211.12,230.74 211.58,230.65 212.04,230.56 212.51,230.47 212.97,230.37 213.44,230.28 213.90,230.18 214.36,230.08 214.83,229.98 215.29,229.88 215.76,229.77 216.22,229.67 216.69,229.57 217.15,229.46 217.61,229.36 218.08,229.25 218.54,229.15 219.01,229.05 219.47,228.94 219.93,228.83 220.40,228.73 220.86,228.61 221.33,228.50 221.79,228.39 222.25,228.27 222.72,228.15 223.18,228.03 223.65,227.91 224.11,227.79 224.57,227.67 225.04,227.55 225.50,227.42 225.97,227.30 226.43,227.18 226.90,227.05 227.36,226.92 227.82,226.80 228.29,226.67 228.75,226.55 229.22,226.42 229.68,226.30 230.14,226.17 230.61,226.05 231.07,225.92 231.54,225.80 232.00,225.68 232.46,225.56 232.93,225.44 233.39,225.32 233.86,225.20 234.32,225.08 234.79,224.97 235.25,224.85 235.71,224.74 236.18,224.62 236.64,224.51 237.11,224.39 237.57,224.28 238.03,224.16 238.50,224.05 238.96,223.94 239.43,223.82 239.89,223.71 240.35,223.59 240.82,223.48 241.28,223.37 241.75,223.26 242.21,223.14 242.67,223.03 243.14,222.92 243.60,222.80 244.07,222.69 244.53,222.58 245.00,222.47 245.46,222.35 245.92,222.24 246.39,222.13 246.85,222.01 247.32,221.90 247.78,221.79 248.24,221.67 248.71,221.56 249.17,221.44 249.64,221.33 250.10,221.21 250.56,221.10 251.03,220.98 251.49,220.87 251.96,220.75 252.42,220.63 252.88,220.52 253.35,220.40 253.81,220.28 254.28,220.16 254.74,220.05 255.21,219.93 255.67,219.81 256.13,219.69 256.60,219.57 257.06,219.45 257.53,219.33 257.99,219.21 258.45,219.09 258.92,218.97 259.38,218.85 259.85,218.73 260.31,218.61 260.77,218.49 261.24,218.37 261.70,218.25 262.17,218.13 262.63,218.01 263.09,217.90 263.56,217.78 264.02,217.66 264.49,217.54 264.95,217.42 265.42,217.31 265.88,217.19 266.34,217.07 266.81,216.96 267.27,216.84 267.74,216.73 268.20,216.62 268.66,216.50 269.13,216.39 269.59,216.28 270.06,216.17 270.52,216.06 270.98,215.95 271.45,215.84 271.91,215.73 272.38,215.62 272.84,215.51 273.30,215.40 273.77,215.29 274.23,215.19 274.70,215.08 275.16,214.97 275.63,214.87 276.09,214.76 276.55,214.65 277.02,214.55 277.48,214.44 277.95,214.34 278.41,214.23 278.87,214.13 279.34,214.02 279.80,213.92 280.27,213.81 280.73,213.71 281.19,213.60 281.66,213.50 282.12,213.39 282.59,213.29 283.05,213.18 283.51,213.08 283.98,212.97 284.44,212.87 284.91,212.76 285.37,212.66 285.84,212.55 286.30,212.44 286.76,212.34 287.23,212.23 287.69,212.12 288.16,212.02 288.62,211.91 289.08,211.80 289.55,211.69 290.01,211.58 290.48,211.48 290.94,211.37 291.40,211.26 291.87,211.15 292.33,211.04 292.80,210.93 293.26,210.82 293.72,210.71 294.19,210.60 294.65,210.49 295.12,210.39 295.58,210.28 296.05,210.17 296.51,210.06 296.97,209.95 297.44,209.84 297.90,209.73 298.37,209.62 298.83,209.51 299.29,209.40 299.76,209.29 300.22,209.18 300.69,209.07 301.15,208.96 301.61,208.86 302.08,208.75 302.54,208.64 303.01,208.53 303.47,208.42 303.93,208.31 304.40,208.20 304.86,208.09 305.33,207.98 305.79,207.87 306.26,207.76 306.72,207.65 307.18,207.54 307.65,207.43 308.11,207.32 308.58,207.21 309.04,207.10 309.50,206.99 309.97,206.88 310.43,206.77 310.90,206.66 311.36,206.55 311.82,206.44 312.29,206.33 312.75,206.22 313.22,206.11 313.68,206.00 314.15,205.89 314.61,205.78 315.07,205.67 315.54,205.56 316.00,205.45 316.47,205.34 316.93,205.23 317.39,205.12 317.86,205.01 318.32,204.90 318.79,204.79 319.25,204.67 319.71,204.56 320.18,204.45 320.64,204.34 321.11,204.23 321.57,204.12 322.03,204.01 322.50,203.90 322.96,203.79 323.43,203.68 323.89,203.57 324.36,203.46 324.82,203.35 325.28,203.23 325.75,203.12 326.21,203.01 326.68,202.90 327.14,202.79 327.60,202.68 328.07,202.57 328.53,202.46 329.00,202.35 329.46,202.23 329.92,202.12 330.39,202.01 330.85,201.90 331.32,201.79 331.78,201.68 332.24,201.57 332.71,201.45 333.17,201.34 333.64,201.23 334.10,201.12 334.57,201.01 335.03,200.90 335.49,200.79 335.96,200.67 336.42,200.56 336.89,200.45 337.35,200.34 337.81,200.23 338.28,200.11 338.74,200.00 339.21,199.89 339.67,199.78 340.13,199.67 340.60,199.55 341.06,199.44 341.53,199.33 341.99,199.22 342.45,199.10 342.92,198.99 343.38,198.88 343.85,198.77 344.31,198.66 344.78,198.54 345.24,198.43 345.70,198.32 346.17,198.21 346.63,198.09 347.10,197.98 347.56,197.87 348.02,197.75 348.49,197.64 348.95,197.53 349.42,197.42 349.88,197.30 350.34,197.19 350.81,197.08 351.27,196.96 351.74,196.85 352.20,196.74 352.66,196.62 353.13,196.51 353.59,196.40 354.06,196.28 354.52,196.17 354.99,196.06 355.45,195.94 355.91,195.83 356.38,195.72 356.84,195.60 357.31,195.49 357.77,195.38 358.23,195.26 358.70,195.15 359.16,195.04 359.63,194.92 360.09,194.81 360.55,194.69 361.02,194.58 361.48,194.47 361.95,194.35 362.41,194.24 362.87,194.12 363.34,194.01 363.80,193.90 364.27,193.78 364.73,193.67 365.20,193.55 365.66,193.44 366.12,193.32 366.59,193.21 367.05,193.09 367.52,192.98 367.98,192.87 368.44,192.75 368.91,192.64 369.37,192.52 369.84,192.41 370.30,192.29 370.76,192.18 371.23,192.06 371.69,191.95 372.16,191.83 372.62,191.72 373.08,191.60 373.55,191.49 374.01,191.37 374.48,191.26 374.94,191.14 375.41,191.02 375.87,190.91 376.33,190.79 376.80,190.68 377.26,190.56 377.73,190.45 378.19,190.33 378.65,190.22 379.12,190.10 379.58,189.98 380.05,189.87 380.51,189.75 380.97,189.64 381.44,189.52 381.90,189.40 382.37,189.29 382.83,189.17 383.29,189.05 383.76,188.94 384.22,188.82 384.69,188.71 385.15,188.59 385.62,188.47 386.08,188.36 386.54,188.24 387.01,188.12 387.47,188.01 387.94,187.89 388.40,187.77" stroke="#0a8e8e"/>
<polyline points="110.06,321.00 110.10,321.00 110.15,321.00 110.20,321.00 110.24,321.00 110.29,321.00 110.33,321.00 110.38,321.00 110.43,321.00 110.47,321.00 110.52,321.00 110.57,321.00 110.61,321.00 110.66,321.00 110.71,321.00 110.75,321.00 110.80,321.00 110.84,321.00 110.89,321.00 110.94,321.00 110.98,321.00 111.03,321.00 111.08,321.00 111.12,321.00 111.17,321.00 111.22,321.00 111.26,321.00 111.31,321.00 111.35,321.00 111.40,321.00 111.45,321.00 111.49,321.00 111.54,321.00 111.59,321.00 111.63,321.00 111.68,321.00 111.73,321.00 111.77,321.00 111.82,321.00 111.86,321.00 111.91,321.00 111.96,321.00 112.00,321.00 112.05,321.00 112.10,321.00 112.14,321.00 112.19,321.00 112.24,321.00 112.28,321.00 112.33,321.00 112.38,321.00 112.42,321.00 112.47,321.00 112.51,321.00 112.56,321.00 112.61,321.00 112.65,321.00 112.70,321.00 112.75,321.00 112.79,321.00 112.84,321.00 112.89,321.00 112.93,321.00 112.98,321.00 113.02,321.00 113.07,321.00 113.12,321.00 113.16,321.00 113.21,321.00 113.26,321.00 113.30,321.00 113.35,321.00 113.40,321.00 113.44,321.00 113.49,321.00 113.53,321.00 113.58,321.00 113.63,321.00 113.67,321.00 113.72,321.00 113.77,321.00 113.81,321.00 113.86,321.00 113.91,321.00 113.95,321.00 114.00,321.00 114.04,321.00 114.09,321.00 114.14,321.00 114.18,321.00 114.23,321.00 114.28,321.00 114.32,321.00 114.37,321.00 114.42,321.00 114.46,321.00 114.51,321.00 114.55,321.00 114.60,321.00 114.65,321.00 114.69,321.00 114.74,321.00 114.79,321.00 114.83,321.00 114.88,321.00 114.93,321.00 114.97,321.00 115.02,321.00 115.07,321.00 115.11,321.00 115.16,321.00 115.20,321.00 115.25,321.00 115.30,321.00 115.34,321.00 115.39,321.00 115.44,321.00 115.48,321.00 115.53,321.00 115.58,321.00 115.62,321.00 115.67,321.00 115.71,321.00 115.76,321.00 115.81,321.00 115.85,321.00 115.90,321.00 115.95,321.00 115.99,321.00 116.04,321.00 116.09,321.00 116.13,321.00 116.18,321.00 116.22,321.00 116.27,321.00 116.32,321.00 116.36,321.00 116.41,321.00 116.46,321.00 116.50,321.00 116.55,321.00 116.60,321.00 116.64,321.00 116.69,321.00 116.73,321.00 116.78,321.00 116.83,321.00 116.87,321.00 116.92,321.00 116.97,321.00 117.01,321.00 117.06,321.00 117.11,321.00 117.15,321.00 117.20,321.00 117.25,321.00 117.29,321.00 117.34,321.00 117.38,321.00 117.43,321.00 117.48,321.00 117.52,321.00 117.57,321.00 117.62,321.00 117.66,321.00 117.71,321.00 117.76,321.00 117.80,321.00 117.85,321.00 117.89,321.00 117.94,321.00 117.99,321.00 118.03,321.00 118.08,321.00 118.13,321.00 118.17,321.00 118.22,321.00 118.27,321.00 118.31,321.00 118.36,321.00 118.40,321.00 118.45,321.00 118.50,321.00 118.54,321.00 118.59,321.00 118.64,321.00 118.68,321.00 118.73,321.00 118.78,321.00 118.82,321.00 118.87,321.00 118.91,321.00 118.96,321.00 119.01,321.00 119.05,321.00 119.10,321.00 119.15,321.00 119.19,321.00 119.24,321.00 119.29,321.00 119.33,321.00 119.38,321.00 119.42,321.00 119.47,321.00 119.52,321.00 119.56,321.00 119.61,321.00 119.66,321.00 119.70,321.00 119.75,321.00 119.80,321.00 119.84,321.00 119.89,321.00 119.94,321.00 119.98,321.00 120.03,321.00 120.07,321.00 120.12,321.00 120.17,321.00 120.21,321.00 120.26,321.00 120.31,321.00 120.35,321.00 120.40,321.00 120.45,321.00 120.49,321.00 120.54,321.00 120.58,321.00 120.63,321.00 120.68,321.00 120.72,321.00 120.77,321.00 120.82,321.00 120.86,321.00 120.91,321.00 120.96,321.00 121.00,321.00 121.05,321.00 121.09,321.00 121.14,321.00 121.19,321.00 121.23,321.00 121.28,321.00 121.33,321.00 121.37,321.00 121.42,321.00 121.47,321.00 121.51,321.00 121.56,321.00 121.60,321.00 121.65,321.00 121.70,321.00 121.74,321.00 121.79,321.00 121.84,321.00 121.88,321.00 121.93,321.00 121.98,321.00 122.02,321.00 122.07,321.00 122.11,321.00 122.16,321.00 122.21,321.00 122.25,320.99 122.30,320.99 122.35,320.99 122.39,320.99 122.44,320.98 122.49,320.98 122.53,320.97 122.58,320.97 122.63,320.96 122.67,320.95 122.72,320.93 122.76,320.91 122.81,320.89 122.86,320.86 122.90,320.82 122.95,320.77 123.00,320.71 123.04,320.63 123.09,320.54 123.14,320.41 123.18,320.26 123.23,320.06 123.27,319.81 123.32,319.50 123.37,319.11 123.41,318.63 123.46,318.04 123.51,317.30 123.55,316.41 123.60,315.34 123.65,314.05 123.69,312.55 123.74,310.81 123.78,308.85 123.83,306.68 123.88,304.33 123.92,301.86 123.97,299.34 124.02,296.83 124.06,294.41 124.11,292.13 124.16,290.04 124.20,288.18 124.25,286.54 124.29,285.13 124.34,283.94 124.39,282.95 124.43,282.12 124.48,281.45 124.53,280.91 124.57,280.46 124.62,280.11 124.67,279.82 124.71,279.60 124.76,279.42 124.81,279.27 124.85,279.16 124.90,279.07 124.94,278.99 124.99,278.94 125.04,278.89 125.08,278.85 125.13,278.82 125.18,278.80 125.22,278.78 125.27,278.76 125.32,278.75 125.36,278.74 125.41,278.73 125.45,278.72 125.50,278.71 125.55,278.71 125.59,278.70 125.64,278.70 125.69,278.69 125.73,278.69 125.78,278.68 125.83,278.68 125.87,278.68 125.92,278.67 125.96,278.67 126.01,278.67 126.06,278.66 126.10,278.66 126.15,278.66 126.20,278.65 126.24,278.65 126.29,278.65 126.34,278.64 126.38,278.64 126.43,278.64 126.47,278.64 126.52,278.63 126.57,278.63 126.61,278.63 126.66,278.62 126.71,278.62 126.75,278.62 126.80,278.61 126.85,278.61 126.89,278.61 126.94,278.60 126.98,278.60 127.03,278.60 127.08,278.60 127.12,278.59 127.17,278.59 127.22,278.59 127.26,278.58 127.31,278.58 127.36,278.58 127.40,278.57 127.45,278.57 127.50,278.57 127.54,278.56 127.59,278.56 127.63,278.56 127.68,278.56 127.73,278.55 127.77,278.55 127.82,278.55 127.87,278.54 127.91,278.54 127.96,278.54 128.01,278.53 128.05,278.53 128.10,278.53 128.14,278.52 128.19,278.52 128.24,278.52 128.28,278.52 128.33,278.51 128.38,278.51 128.42,278.51 128.47,278.50 128.52,278.50 128.56,278.50 128.61,278.49 128.65,278.49 128.70,278.49 128.75,278.48 128.79,278.48 128.84,278.48 128.89,278.47 128.93,278.47 128.98,278.47 129.03,278.46 129.07,278.46 129.12,278.46 129.16,278.46 129.21,278.45 129.26,278.45 129.30,278.45 129.35,278.44 129.40,278.44 129.44,278.44 129.49,278.43 129.54,278.43 129.58,278.43 129.63,278.42 129.68,278.42 129.72,278.42 129.77,278.41 129.81,278.41 129.86,278.41 129.91,278.40 129.95,278.40 130.00,278.40 130.05,278.39 130.09,278.39 130.14,278.39 130.19,278.38 130.23,278.38 130.28,278.38 130.32,278.37 130.37,278.37 130.42,278.37 130.46,278.36 130.51,278.36 130.56,278.36 130.60,278.36 130.65,278.35 130.70,278.35 130.74,278.35 130.79,278.34 130.83,278.34 130.88,278.34 130.93,278.33 130.97,278.33 131.02,278.33 131.07,278.32 131.11,278.32 131.16,278.32 131.21,278.31 131.25,278.31 131.30,278.31 131.34,278.30 131.39,278.30 131.44,278.30 131.48,278.29 131.53,278.29 131.58,278.29 131.62,278.28 131.67,278.28 131.72,278.28 131.76,278.27 131.81,278.27 131.85,278.27 131.90,278.26 131.95,278.26 131.99,278.26 132.04,278.25 132.09,278.25 132.13,278.25 132.18,278.24 132.23,278.24 132.27,278.24 132.32,278.23 132.37,278.23 132.41,278.23 132.46,278.22 132.50,278.22 132.55,278.21 132.60,278.21 132.64,278.21 132.69,278.20 132.74,278.20 132.78,278.20 132.83,278.19 132.88,278.19 132.92,278.19 132.97,278.18 133.01,278.18 133.06,278.18 133.11,278.17 133.15,278.17 133.20,278.17 133.84,278.12 134.48,278.07 135.12,278.02 135.76,277.97 136.40,277.92 137.04,277.87 137.68,277.82 138.32,277.77 138.96,277.72 139.60,277.67 140.24,277.61 140.88,277.56 141.51,277.51 142.15,277.45 142.79,277.40 143.43,277.34 144.07,277.29 144.71,277.23 145.35,277.17 145.99,277.11 146.63,277.06 147.27,277.00 147.91,276.94 148.55,276.88 149.19,276.82 149.83,276.76 150.47,276.70 151.11,276.64 151.75,276.58 152.39,276.51 153.03,276.45 153.67,276.39 154.31,276.32 154.95,276.26 155.59,276.19 156.23,276.13 156.87,276.06 157.50,276.00 158.14,275.93 158.78,275.86 159.42,275.80 160.06,275.73 160.70,275.66 161.34,275.59 161.98,275.52 162.62,275.45 163.26,275.38 163.90,275.31 164.54,275.24 165.18,275.17 165.82,275.10 166.46,275.03 167.10,274.95 167.74,274.88 168.38,274.81 169.02,274.73 169.66,274.66 170.30,274.58 170.94,274.51 171.58,274.43 172.22,274.36 172.86,274.28 173.49,274.20 174.13,274.12 174.77,274.05 175.41,273.97 176.05,273.89 176.69,273.81 177.33,273.73 177.97,273.65 178.61,273.57 179.25,273.49 179.89,273.41 180.53,273.33 181.17,273.25 181.81,273.17 182.45,273.08 183.09,273.00 183.73,272.92 184.37,272.83 185.01,272.75 185.65,272.67 186.29,272.58 186.93,272.50 187.57,272.41 188.21,272.32 188.85,272.24 189.48,272.15 190.12,272.07 190.76,271.98 191.40,271.89 192.04,271.80 192.68,271.71 193.32,271.63 193.96,271.54 194.60,271.45 195.24,271.36 195.88,271.27 196.52,271.18 197.16,271.09 197.80,271.00 198.44,270.91 199.08,270.81 199.72,270.72 200.36,270.63 201.00,270.54 201.64,270.44 202.28,270.35 202.92,270.26 203.56,270.16 204.20,270.07 204.84,269.98 205.47,269.88 206.11,269.79 206.75,269.69 207.39,269.59 208.03,269.50 208.67,269.40 209.31,269.31 209.95,269.21 210.59,269.11 211.23,269.01 211.87,268.92 212.51,268.82 213.15,268.72 213.79,268.62 214.43,268.52 215.07,268.42 215.71,268.32 216.35,268.23 216.99,268.13 217.63,268.03 218.27,267.92 218.91,267.82 219.55,267.72 220.19,267.62 220.83,267.52 221.46,267.42 222.10,267.32 222.74,267.21 223.38,267.11 224.02,267.01 224.66,266.91 225.30,266.80 225.94,266.70 226.58,266.60 227.22,266.49 227.86,266.39 228.50,266.28 229.14,266.18 229.78,266.07 230.42,265.97 231.06,265.86 231.70,265.76 232.34,265.65 232.98,265.55 233.62,265.44 234.26,265.33 234.90,265.23 235.54,265.12 236.18,265.01 236.82,264.91 237.45,264.80 238.09,264.69 238.73,264.58 239.37,264.48 240.01,264.37 240.65,264.26 241.29,264.15 241.93,264.04 242.57,263.93 243.21,263.83 243.85,263.72 244.49,263.61 245.13,263.50 245.77,263.39 246.41,263.28 247.05,263.17 247.69,263.06 248.33,262.95 248.97,262.84 249.61,262.72 250.25,262.61 250.89,262.50 251.53,262.39 252.17,262.28 252.81,262.17 253.44,262.06 254.08,261.94 254.72,261.83 255.36,261.72 256.00,261.61 256.64,261.50 257.28,261.38 257.92,261.27 258.56,261.16 259.20,261.04 259.84,260.93 260.48,260.82 261.12,260.70 261.76,260.59 262.40,260.48 263.04,260.36 263.68,260.25 264.32,260.14 264.96,260.02 265.60,259.91 266.24,259.79 266.88,259.68 267.52,259.56 268.16,259.45 268.79,259.34 269.43,259.22 270.07,259.11 270.71,258.99 271.35,258.88 271.99,258.76 272.63,258.64 273.27,258.53 273.91,258.41 274.55,258.30 275.19,258.18 275.83,258.07 276.47,257.95 277.11,257.84 277.75,257.72 278.39,257.60 279.03,257.49 279.67,257.37 280.31,257.26 280.95,257.14 281.59,257.02 282.23,256.91 282.87,256.79 283.51,256.67 284.15,256.56 284.78,256.44 285.42,256.32 286.06,256.21 286.70,256.09 287.34,255.97 287.98,255.86 288.62,255.74 289.26,255.62 289.90,255.51 290.54,255.39 291.18,255.27 291.82,255.16 292.46,255.04 293.10,254.92 293.74,254.80 294.38,254.69 295.02,254.57 295.66,254.45 296.30,254.34 296.94,254.22 297.58,254.10 298.22,253.99 298.86,253.87 299.50,253.75 300.14,253.63 300.77,253.52 301.41,253.40 302.05,253.28 302.69,253.17 303.33,253.05 303.97,252.93 304.61,252.81 305.25,252.70 305.89,252.58 306.53,252.46 307.17,252.35 307.81,252.23 308.45,252.11 309.09,252.00 309.73,251.88 310.37,251.76 311.01,251.65 311.65,251.53 312.29,251.41 312.93,251.29 313.57,251.18 314.21,251.06 314.85,250.95 315.49,250.83 316.13,250.71 316.76,250.60 317.40,250.48 318.04,250.36 318.68,250.25 319.32,250.13 319.96,250.02 320.60,249.90 321.24,249.78 321.88,249.67 322.52,249.55 323.16,249.44 323.80,249.32 324.44,249.20 325.08,249.09 325.72,248.97 326.36,248.86 327.00,248.74 327.64,248.63 328.28,248.51 328.92,248.40 329.56,248.28 330.20,248.17 330.84,248.05 331.48,247.94 332.12,247.83 332.75,247.71 333.39,247.60 334.03,247.48 334.67,247.37 335.31,247.25 335.95,247.14 336.59,247.03 337.23,246.91 337.87,246.80 338.51,246.69 339.15,246.57 339.79,246.46 340.43,246.35 341.07,246.24 341.71,246.12 342.35,246.01 342.99,245.90 343.63,245.79 344.27,245.67 344.91,245.56 345.55,245.45 346.19,245.34 346.83,245.23 347.47,245.12 348.11,245.00 348.74,244.89 349.38,244.78 350.02,244.67 350.66,244.56 351.30,244.45 351.94,244.34 352.58,244.23 353.22,244.12 353.86,244.01 354.50,243.90 355.14,243.79 355.78,243.68 356.42,243.58 357.06,243.47 357.70,243.36 358.34,243.25 358.98,243.14 359.62,243.03 360.26,242.93 360.90,242.82 361.54,242.71 362.18,242.60 362.82,242.50 363.46,242.39 364.10,242.28 364.73,242.18 365.37,242.07 366.01,241.96 366.65,241.86 367.29,241.75 367.93,241.65 368.57,241.54 369.21,241.44 369.85,241.33 370.49,241.23 371.13,241.13 371.77,241.02 372.41,240.92 373.05,240.81 373.69,240.71 374.33,240.61 374.97,240.51 375.61,240.40 376.25,240.30 376.89,240.20 377.53,240.10 378.17,240.00 378.81,239.89 379.45,239.79 380.09,239.69 380.72,239.59 381.36,239.49 382.00,239.39 382.64,239.29 383.28,239.19 383.92,239.09 384.56,239.00 385.20,238.90 385.84,238.80 386.48,238.70 387.12,238.60 387.76,238.51 388.40,238.41" stroke="#0a8c0a"/>
<polyline points="110.06,321.00 110.10,321.00 110.15,321.00 110.20,321.00 110.24,321.00 110.29,321.00 110.33,321.00 110.38,321.00 110.43,321.00 110.47,321.00 110.52,321.00 110.57,321.00 110.61,321.00 110.66,321.00 110.71,321.00 110.75,321.00 110.80,321.00 110.84,321.00 110.89,321.00 110.94,321.00 110.98,321.00 111.03,321.00 111.08,321.00 111.12,321.00 111.17,321.00 111.22,321.00 111.26,321.00 111.31,321.00 111.35,321.00 111.40,321.00 111.45,321.00 111.49,321.00 111.54,321.00 111.59,321.00 111.63,321.00 111.68,321.00 111.73,321.00 111.77,321.00 111.82,321.00 111.86,321.00 111.91,321.00 111.96,321.00 112.00,321.00 112.05,321.00 112.10,321.00 112.14,321.00 112.19,321.00 112.24,321.00 112.28,321.00 112.33,321.00 112.38,321.00 112.42,321.00 112.47,321.00 112.51,321.00 112.56,321.00 112.61,321.00 112.65,321.00 112.70,321.00 112.75,321.00 112.79,321.00 112.84,321.00 112.89,321.00 112.93,321.00 112.98,321.00 113.02,321.00 113.07,321.00 113.12,321.00 113.16,321.00 113.21,321.00 113.26,321.00 113.30,321.00 113.35,321.00 113.40,321.00 113.44,321.00 113.49,321.00 113.53,321.00 113.58,321.00 113.63,321.00 113.67,321.00 113.72,321.00 113.77,321.00 113.81,321.00 113.86,321.00 113.91,321.00 113.95,321.00 114.00,321.00 114.04,321.00 114.09,321.00 114.14,321.00 114.18,321.00 114.23,321.00 114.28,321.00 114.32,321.00 114.37,321.00 114.42,321.00 114.46,321.00 114.51,321.00 114.55,321.00 114.60,321.00 114.65,321.00 114.69,321.00 114.74,321.00 114.79,321.00 114.83,321.00 114.88,321.00 114.93,321.00 114.97,321.00 115.02,321.00 115.07,321.00 115.11,321.00 115.16,321.00 115.20,321.00 115.25,321.00 115.30,321.00 115.34,321.00 115.39,321.00 115.44,321.00 115.48,321.00 115.53,321.00 115.58,321.00 115.62,321.00 115.67,321.00 115.71,321.00 115.76,321.00 115.81,321.00 115.85,321.00 115.90,321.00 115.95,321.00 115.99,321.00 116.04,321.00 116.09,321.00 116.13,321.00 116.18,321.00 116.22,321.00 116.27,321.00 116.32,321.00 116.36,321.00 116.41,321.00 116.46,321.00 116.50,321.00 116.55,321.00 116.60,321.00 116.64,321.00 116.69,321.00 116.73,321.00 116.78,321.00 116.83,321.00 116.87,321.00 116.92,321.00 116.97,321.00 117.01,321.00 117.06,321.00 117.11,321.00 117.15,321.00 117.20,321.00 117.25,321.00 117.29,321.00 117.34,321.00 117.38,321.00 117.43,321.00 117.48,321.00 117.52,321.00 117.57,321.00 117.62,321.00 117.66,321.00 117.71,321.00 117.76,321.00 117.80,321.00 117.85,321.00 117.89,321.00 117.94,321.00 117.99,321.00 118.03,321.00 118.08,321.00 118.13,321.00 118.17,321.00 118.22,321.00 118.27,321.00 118.31,321.00 118.36,321.00 118.40,321.00 118.45,321.00 118.50,321.00 118.54,321.00 118.59,321.00 118.64,321.00 118.68,321.00 118.73,321.00 118.78,321.00 118.82,321.00 118.87,321.00 118.91,321.00 118.96,321.00 119.01,321.00 119.05,321.00 119.10,321.00 119.15,321.00 119.19,321.00 119.24,321.00 119.29,321.00 119.33,321.00 119.38,321.00 119.42,321.00 119.47,321.00 119.52,321.00 119.56,321.00 119.61,321.00 119.66,321.00 119.70,321.00 119.75,321.00 119.80,321.00 119.84,321.00 119.89,321.00 119.94,321.00 119.98,321.00 120.03,321.00 120.07,321.00 120.12,321.00 120.17,321.00 120.21,321.00 120.26,321.00 120.31,321.00 120.35,321.00 120.40,321.00 120.45,321.00 120.49,321.00 120.54,321.00 120.58,321.00 120.63,321.00 120.68,321.00 120.72,321.00 120.77,321.00 120.82,321.00 120.86,321.00 120.91,321.00 120.96,321.00 121.00,321.00 121.05,321.00 121.09,321.00 121.14,321.00 121.19,321.00 121.23,321.00 121.28,321.00 121.33,321.00 121.37,321.00 121.42,321.00 121.47,321.00 121.51,321.00 121.56,321.00 121.60,321.00 121.65,321.00 121.70,321.00 121.74,321.00 121.79,320.99 121.84,320.99 121.88,320.99 121.93,320.99 121.98,320.99 122.02,320.98 122.07,320.98 122.11,320.97 122.16,320.96 122.21,320.95 122.25,320.94 122.30,320.92 122.35,320.90 122.39,320.88 122.44,320.84 122.49,320.80 122.53,320.74 122.58,320.68 122.63,320.59 122.67,320.48 122.72,320.34 122.76,320.17 122.81,319.95 122.86,319.67 122.90,319.32 122.95,318.89 123.00,318.35 123.04,317.69 123.09,316.88 123.14,315.90 123.18,314.73 123.23,313.34 123.27,311.72 123.32,309.86 123.37,307.79 123.41,305.52 123.46,303.10 123.51,300.59 123.55,298.06 123.60,295.57 123.65,293.21 123.69,291.01 123.74,289.02 123.78,287.25 123.83,285.72 123.88,284.41 123.92,283.31 123.97,282.40 124.02,281.65 124.06,281.03 124.11,280.53 124.16,280.13 124.20,279.81 124.25,279.55 124.29,279.34 124.34,279.17 124.39,279.04 124.43,278.93 124.48,278.85 124.53,278.78 124.57,278.72 124.62,278.67 124.67,278.64 124.71,278.61 124.76,278.58 124.81,278.56 124.85,278.54 124.90,278.52 124.94,278.51 124.99,278.50 125.04,278.48 125.08,278.47 125.13,278.46 125.18,278.45 125.22,278.44 125.27,278.44 125.32,278.43 125.36,278.42 125.41,278.41 125.45,278.41 125.50,278.40 125.55,278.39 125.59,278.38 125.64,278.38 125.69,278.37 125.73,278.36 125.78,278.35 125.83,278.35 125.87,278.34 125.92,278.33 125.96,278.33 126.01,278.32 126.06,278.31 126.10,278.30 126.15,278.30 126.20,278.29 126.24,278.28 126.29,278.28 126.34,278.27 126.38,278.26 126.43,278.25 126.47,278.25 126.52,278.24 126.57,278.23 126.61,278.23 126.66,278.22 126.71,278.21 126.75,278.20 126.80,278.20 126.85,278.19 126.89,278.18 126.94,278.18 126.98,278.17 127.03,278.16 127.08,278.15 127.12,278.15 127.17,278.14 127.22,278.13 127.26,278.12 127.31,278.12 127.36,278.11 127.40,278.10 127.45,278.10 127.50,278.09 127.54,278.08 127.59,278.07 127.63,278.07 127.68,278.06 127.73,278.05 127.77,278.04 127.82,278.04 127.87,278.03 127.91,278.02 127.96,278.02 128.01,278.01 128.05,278.00 128.10,277.99 128.14,277.99 128.19,277.98 128.24,277.97 128.28,277.96 128.33,277.96 128.38,277.95 128.42,277.94 128.47,277.94 128.52,277.93 128.56,277.92 128.61,277.91 128.65,277.91 128.70,277.90 128.75,277.89 128.79,277.88 128.84,277.88 128.89,277.87 128.93,277.86 128.98,277.85 129.03,277.85 129.07,277.84 129.12,277.83 129.16,277.83 129.21,277.82 129.26,277.81 129.30,277.80 129.35,277.80 129.40,277.79 129.44,277.78 129.49,277.77 129.54,277.77 129.58,277.76 129.63,277.75 129.68,277.74 129.72,277.74 129.77,277.73 129.81,277.72 129.86,277.71 129.91,277.71 129.95,277.70 130.00,277.69 130.05,277.68 130.09,277.68 130.14,277.67 130.19,277.66 130.23,277.65 130.28,277.65 130.32,277.64 130.37,277.63 130.42,277.62 130.46,277.62 130.51,277.61 130.56,277.60 130.60,277.59 130.65,277.59 130.70,277.58 130.74,277.57 130.79,277.56 130.83,277.56 130.88,277.55 130.93,277.54 130.97,277.53 131.02,277.53 131.07,277.52 131.11,277.51 131.16,277.50 131.21,277.50 131.25,277.49 131.30,277.48 131.34,277.47 131.39,277.47 131.44,277.46 131.48,277.45 131.53,277.44 131.58,277.44 131.62,277.43 131.67,277.42 131.72,277.41 131.76,277.41 131.81,277.40 131.85,277.39 131.90,277.38 131.95,277.37 131.99,277.37 132.04,277.36 132.09,277.35 132.13,277.34 132.18,277.34 132.23,277.33 132.27,277.32 132.32,277.31 132.37,277.31 132.41,277.30 132.46,277.29 132.50,277.28 132.55,277.28 132.60,277.27 132.64,277.26 132.69,277.25 132.74,277.24 132.78,277.24 132.83,277.23 132.88,277.22 132.92,277.21 132.97,277.21 133.01,277.20 133.06,277.19 133.11,277.18 133.15,277.18 133.20,277.17 133.84,277.06 134.48,276.95 135.12,276.84 135.76,276.74 136.40,276.63 137.04,276.52 137.68,276.40 138.32,276.29 138.96,276.18 139.60,276.07 140.24,275.95 140.88,275.84 141.51,275.72 142.15,275.61 142.79,275.49 143.43,275.37 144.07,275.25 144.71,275.13 145.35,275.02 145.99,274.90 146.63,274.77 147.27,274.65 147.91,274.53 148.55,274.41 149.19,274.28 149.83,274.16 150.47,274.04 151.11,273.91 151.75,273.78 152.39,273.66 153.03,273.53 153.67,273.40 154.31,273.27 154.95,273.15 155.59,273.02 156.23,272.89 156.87,272.75 157.50,272.62 158.14,272.49 158.78,272.36 159.42,272.22 160.06,272.09 160.70,271.96 161.34,271.82 161.98,271.69 162.62,271.55 163.26,271.41 163.90,271.27 164.54,271.14 165.18,271.00 165.82,270.86 166.46,270.72 167.10,270.58 167.74,270.44 168.38,270.30 169.02,270.15 169.66,270.01 170.30,269.87 170.94,269.73 171.58,269.58 172.22,269.44 172.86,269.29 173.49,269.15 174.13,269.00 174.77,268.85 175.41,268.71 176.05,268.56 176.69,268.41 177.33,268.26 177.97,268.11 178.61,267.96 179.25,267.81 179.89,267.66 180.53,267.51 181.17,267.36 181.81,267.21 182.45,267.05 183.09,266.90 183.73,266.75 184.37,266.59 185.01,266.44 185.65,266.28 186.29,266.13 186.93,265.97 187.57,265.82 188.21,265.66 188.85,265.50 189.48,265.35 190.12,265.19 190.76,265.03 191.40,264.87 192.04,264.71 192.68,264.55 193.32,264.39 193.96,264.23 194.60,264.07 195.24,263.91 195.88,263.75 196.52,263.58 197.16,263.42 197.80,263.26 198.44,263.10 199.08,262.93 199.72,262.77 200.36,262.60 201.00,262.44 201.64,262.27 202.28,262.11 202.92,261.94 203.56,261.77 204.20,261.61 204.84,261.44 205.47,261.27 206.11,261.10 206.75,260.94 207.39,260.77 208.03,260.60 208.67,260.43 209.31,260.26 209.95,260.09 210.59,259.92 211.23,259.75 211.87,259.58 212.51,259.41 213.15,259.24 213.79,259.06 214.43,258.89 215.07,258.72 215.71,258.55 216.35,258.37 216.99,258.20 217.63,258.03 218.27,257.85 218.91,257.68 219.55,257.50 220.19,257.33 220.83,257.15 221.46,256.98 222.10,256.80 222.74,256.63 223.38,256.45 224.02,256.28 224.66,256.10 225.30,255.92 225.94,255.75 226.58,255.57 227.22,255.39 227.86,255.21 228.50,255.03 229.14,254.86 229.78,254.68 230.42,254.50 231.06,254.32 231.70,254.14 232.34,253.96 232.98,253.78 233.62,253.60 234.26,253.42 234.90,253.24 235.54,253.06 236.18,252.88 236.82,252.70 237.45,252.52 238.09,252.34 238.73,252.16 239.37,251.97 240.01,251.79 240.65,251.61 241.29,251.43 241.93,251.25 242.57,251.06 243.21,250.88 243.85,250.70 244.49,250.52 245.13,250.33 245.77,250.15 246.41,249.97 247.05,249.78 247.69,249.60 248.33,249.42 248.97,249.23 249.61,249.05 250.25,248.86 250.89,248.68 251.53,248.50 252.17,248.31 252.81,248.13 253.44,247.94 254.08,247.76 254.72,247.57 255.36,247.39 256.00,247.20 256.64,247.02 257.28,246.83 257.92,246.65 258.56,246.46 259.20,246.28 259.84,246.09 260.48,245.90 261.12,245.72 261.76,245.53 262.40,245.35 263.04,245.16 263.68,244.98 264.32,244.79 264.96,244.60 265.60,244.42 266.24,244.23 266.88,244.05 267.52,243.86 268.16,243.67 268.79,243.49 269.43,243.30 270.07,243.12 270.71,242.93 271.35,242.74 271.99,242.56 272.63,242.37 273.27,242.18 273.91,242.00 274.55,241.81 275.19,241.63 275.83,241.44 276.47,241.25 277.11,241.07 277.75,240.88 278.39,240.70 279.03,240.51 279.67,240.32 280.31,240.14 280.95,239.95 281.59,239.77 282.23,239.58 282.87,239.39 283.51,239.21 284.15,239.02 284.78,238.84 285.42,238.65 286.06,238.46 286.70,238.28 287.34,238.09 287.98,237.91 288.62,237.72 289.26,237.54 289.90,237.35 290.54,237.17 291.18,236.98 291.82,236.80 292.46,236.61 293.10,236.43 293.74,236.24 294.38,236.06 295.02,235.88 295.66,235.69 296.30,235.51 296.94,235.32 297.58,235.14 298.22,234.96 298.86,234.77 299.50,234.59 300.14,234.41 300.77,234.22 301.41,234.04 302.05,233.86 302.69,233.67 303.33,233.49 303.97,233.31 304.61,233.13 305.25,232.95 305.89,232.76 306.53,232.58 307.17,232.40 307.81,232.22 308.45,232.04 309.09,231.86 309.73,231.68 310.37,231.50 311.01,231.32 311.65,231.14 312.29,230.96 312.93,230.78 313.57,230.60 314.21,230.42 314.85,230.24 315.49,230.06 316.13,229.88 316.76,229.70 317.40,229.52 318.04,229.35 318.68,229.17 319.32,228.99 319.96,228.81 320.60,228.64 321.24,228.46 321.88,228.28 322.52,228.11 323.16,227.93 323.80,227.75 324.44,227.58 325.08,227.40 325.72,227.23 326.36,227.05 327.00,226.88 327.64,226.71 328.28,226.53 328.92,226.36 329.56,226.18 330.20,226.01 330.84,225.84 331.48,225.67 332.12,225.49 332.75,225.32 333.39,225.15 334.03,224.98 334.67,224.81 335.31,224.64 335.95,224.47 336.59,224.30 337.23,224.13 337.87,223.96 338.51,223.79 339.15,223.62 339.79,223.46 340.43,223.29 341.07,223.12 341.71,222.95 342.35,222.79 342.99,222.62 343.63,222.45 344.27,222.29 344.91,222.12 345.55,221.96 346.19,221.79 346.83,221.63 347.47,221.47 348.11,221.30 348.74,221.14 349.38,220.98 350.02,220.82 350.66,220.65 351.30,220.49 351.94,220.33 352.58,220.17 353.22,220.01 353.86,219.85 354.50,219.69 355.14,219.53 355.78,219.38 356.42,219.22 357.06,219.06 357.70,218.90 358.34,218.75 358.98,218.59 359.62,218.43 360.26,218.28 360.90,218.12 361.54,217.97 362.18,217.82 362.82,217.66 363.46,217.51 364.10,217.36 364.73,217.21 365.37,217.05 366.01,216.90 366.65,216.75 367.29,216.60 367.93,216.45 368.57,216.30 369.21,216.16 369.85,216.01 370.49,215.86 371.13,215.71 371.77,215.57 372.41,215.42 373.05,215.28 373.69,215.13 374.33,214.99 374.97,214.84 375.61,214.70 376.25,214.56 376.89,214.41 377.53,214.27 378.17,214.13 378.81,213.99 379.45,213.85 380.09,213.71 380.72,213.57 381.36,213.43 382.00,213.29 382.64,213.16 383.28,213.02 383.92,212.88 384.56,212.75 385.20,212.61 385.84,212.48 386.48,212.35 387.12,212.21 387.76,212.08 388.40,211.95" stroke="#8e8e0a"/>
<polyline points="110.06,321.00 110.10,321.00 110.15,321.00 110.20,321.00 110.24,321.00 110.29,321.00 110.33,321.00 110.38,321.00 110.43,321.00 110.47,321.00 110.52,321.00 110.57,321.00 110.61,321.00 110.66,321.00 110.71,321.00 110.75,321.00 110.80,321.00 110.84,321.00 110.89,321.00 110.94,321.00 110.98,321.00 111.03,321.00 111.08,321.00 111.12,321.00 111.17,321.00 111.22,321.00 111.26,321.00 111.31,321.00 111.35,321.00 111.40,321.00 111.45,321.00 111.49,321.00 111.54,321.00 111.59,321.00 111.63,321.00 111.68,321.00 111.73,321.00 111.77,321.00 111.82,321.00 111.86,321.00 111.91,321.00 111.96,321.00 112.00,321.00 112.05,321.00 112.10,321.00 112.14,321.00 112.19,321.00 112.24,321.00 112.28,321.00 112.33,321.00 112.38,321.00 112.42,321.00 112.47,321.00 112.51,321.00 112.56,321.00 112.61,321.00 112.65,321.00 112.70,321.00 112.75,321.00 112.79,321.00 112.84,321.00 112.89,321.00 112.93,321.00 112.98,321.00 113.02,321.00 113.07,321.00 113.12,321.00 113.16,321.00 113.21,321.00 113.26,321.00 113.30,321.00 113.35,321.00 113.40,321.00 113.44,321.00 113.49,321.00 113.53,321.00 113.58,321.00 113.63,321.00 113.67,321.00 113.72,321.00 113.77,321.00 113.81,321.00 113.86,321.00 113.91,321.00 113.95,321.00 114.00,321.00 114.04,321.00 114.09,321.00 114.14,321.00 114.18,321.00 114.23,321.00 114.28,321.00 114.32,321.00 114.37,321.00 114.42,321.00 114.46,321.00 114.51,321.00 114.55,321.00 114.60,321.00 114.65,321.00 114.69,321.00 114.74,321.00 114.79,321.00 114.83,321.00 114.88,321.00 114.93,321.00 114.97,321.00 115.02,321.00 115.07,321.00 115.11,321.00 115.16,321.00 115.20,321.00 115.25,321.00 115.30,321.00 115.34,321.00 115.39,321.00 115.44,321.00 115.48,321.00 115.53,321.00 115.58,321.00 115.62,321.00 115.67,321.00 115.71,321.00 115.76,321.00 115.81,321.00 115.85,321.00 115.90,321.00 115.95,321.00 115.99,321.00 116.04,321.00 116.09,321.00 116.13,321.00 116.18,321.00 116.22,321.00 116.27,321.00 116.32,321.00 116.36,321.00 116.41,321.00 116.46,321.00 116.50,321.00 116.55,321.00 116.60,321.00 116.64,321.00 116.69,321.00 116.73,321.00 116.78,321.00 116.83,321.00 116.87,321.00 116.92,321.00 116.97,321.00 117.01,321.00 117.06,321.00 117.11,321.00 117.15,320.99 117.20,320.99 117.25,320.99 117.29,320.99 117.34,320.99 117.38,320.99 117.43,320.99 117.48,320.99 117.52,320.98 117.57,320.98 117.62,320.98 117.66,320.98 117.71,320.97 117.76,320.97 117.80,320.96 117.85,320.96 117.89,320.95 117.94,320.95 117.99,320.94 118.03,320.93 118.08,320.92 118.13,320.91 118.17,320.89 118.22,320.88 118.27,320.86 118.31,320.84 118.36,320.81 118.40,320.78 118.45,320.75 118.50,320.72 118.54,320.67 118.59,320.63 118.64,320.57 118.68,320.51 118.73,320.44 118.78,320.35 118.82,320.26 118.87,320.15 118.91,320.03 118.96,319.89 119.01,319.74 119.05,319.56 119.10,319.36 119.15,319.13 119.19,318.87 119.24,318.59 119.29,318.26 119.33,317.91 119.38,317.51 119.42,317.06 119.47,316.58 119.52,316.04 119.56,315.46 119.61,314.83 119.66,314.15 119.70,313.43 119.75,312.66 119.80,311.86 119.84,311.01 119.89,310.15 119.94,309.26 119.98,308.36 120.03,307.45 120.07,306.55 120.12,305.66 120.17,304.79 120.21,303.96 120.26,303.15 120.31,302.39 120.35,301.67 120.40,300.99 120.45,300.36 120.49,299.78 120.54,299.25 120.58,298.76 120.63,298.32 120.68,297.92 120.72,297.56 120.77,297.23 120.82,296.94 120.86,296.68 120.91,296.45 120.96,296.25 121.00,296.06 121.05,295.90 121.09,295.76 121.14,295.63 121.19,295.52 121.23,295.42 121.28,295.33 121.33,295.25 121.37,295.18 121.42,295.12 121.47,295.06 121.51,295.01 121.56,294.97 121.60,294.93 121.65,294.89 121.70,294.86 121.74,294.83 121.79,294.81 121.84,294.78 121.88,294.76 121.93,294.74 121.98,294.72 122.02,294.71 122.07,294.69 122.11,294.68 122.16,294.66 122.21,294.65 122.25,294.64 122.30,294.62 122.35,294.61 122.39,294.60 122.44,294.59 122.49,294.58 122.53,294.57 122.58,294.56 122.63,294.55 122.67,294.54 122.72,294.53 122.76,294.52 122.81,294.52 122.86,294.51 122.90,294.50 122.95,294.49 123.00,294.48 123.04,294.47 123.09,294.46 123.14,294.46 123.18,294.45 123.23,294.44 123.27,294.43 123.32,294.42 123.37,294.42 123.41,294.41 123.46,294.40 123.51,294.39 123.55,294.38 123.60,294.38 123.65,294.37 123.69,294.36 123.74,294.35 123.78,294.34 123.83,294.34 123.88,294.33 123.92,294.32 123.97,294.31 124.02,294.30 124.06,294.30 124.11,294.29 124.16,294.28 124.20,294.27 124.25,294.27 124.29,294.26 124.34,294.25 124.39,294.24 124.43,294.23 124.48,294.23 124.53,294.22 124.57,294.21 124.62,294.20 124.67,294.19 124.71,294.19 124.76,294.18 124.81,294.17 124.85,294.16 124.90,294.15 124.94,294.15 124.99,294.14 125.04,294.13 125.08,294.12 125.13,294.11 125.18,294.11 125.22,294.10 125.27,294.09 125.32,294.08 125.36,294.08 125.41,294.07 125.45,294.06 125.50,294.05 125.55,294.04 125.59,294.04 125.64,294.03 125.69,294.02 125.73,294.01 125.78,294.00 125.83,294.00 125.87,293.99 125.92,293.98 125.96,293.97 126.01,293.96 126.06,293.96 126.10,293.95 126.15,293.94 126.20,293.93 126.24,293.93 126.29,293.92 126.34,293.91 126.38,293.90 126.43,293.89 126.47,293.89 126.52,293.88 126.57,293.87 126.61,293.86 126.66,293.85 126.71,293.85 126.75,293.84 126.80,293.83 126.85,293.82 126.89,293.81 126.94,293.81 126.98,293.80 127.03,293.79 127.08,293.78 127.12,293.78 127.17,293.77 127.22,293.76 127.26,293.75 127.31,293.74 127.36,293.74 127.40,293.73 127.45,293.72 127.50,293.71 127.54,293.70 127.59,293.70 127.63,293.69 127.68,293.68 127.73,293.67 127.77,293.66 127.82,293.66 127.87,293.65 127.91,293.64 127.96,293.63 128.01,293.63 128.05,293.62 128.10,293.61 128.14,293.60 128.19,293.59 128.24,293.59 128.28,293.58 128.33,293.57 128.38,293.56 128.42,293.55 128.47,293.55 128.52,293.54 128.56,293.53 128.61,293.52 128.65,293.51 128.70,293.51 128.75,293.50 128.79,293.49 128.84,293.48 128.89,293.48 128.93,293.47 128.98,293.46 129.03,293.45 129.07,293.44 129.12,293.44 129.16,293.43 129.21,293.42 129.26,293.41 129.30,293.40 129.35,293.40 129.40,293.39 129.44,293.38 129.49,293.37 129.54,293.36 129.58,293.36 129.63,293.35 129.68,293.34 129.72,293.33 129.77,293.32 129.81,293.32 129.86,293.31 129.91,293.30 129.95,293.29 130.00,293.29 130.05,293.28 130.09,293.27 130.14,293.26 130.19,293.25 130.23,293.25 130.28,293.24 130.32,293.23 130.37,293.22 130.42,293.21 130.46,293.21 130.51,293.20 130.56,293.19 130.60,293.18 130.65,293.17 130.70,293.17 130.74,293.16 130.79,293.15 130.83,293.14 130.88,293.14 130.93,293.13 130.97,293.12 131.02,293.11 131.07,293.10 131.11,293.10 131.16,293.09 131.21,293.08 131.25,293.07 131.30,293.06 131.34,293.06 131.39,293.05 131.44,293.04 131.48,293.03 131.53,293.02 131.58,293.02 131.62,293.01 131.67,293.00 131.72,292.99 131.76,292.99 131.81,292.98 131.85,292.97 131.90,292.96 131.95,292.95 131.99,292.95 132.04,292.94 132.09,292.93 132.13,292.92 132.18,292.91 132.23,292.91 132.27,292.90 132.32,292.89 132.37,292.88 132.41,292.87 132.46,292.87 132.50,292.86 132.55,292.85 132.60,292.84 132.64,292.83 132.69,292.83 132.74,292.82 132.78,292.81 132.83,292.80 132.88,292.80 132.92,292.79 132.97,292.78 133.01,292.77 133.06,292.76 133.11,292.76 133.15,292.75 133.20,292.74 133.84,292.63 134.48,292.52 135.12,292.41 135.76,292.30 136.40,292.19 137.04,292.09 137.68,291.98 138.32,291.87 138.96,291.76 139.60,291.65 140.24,291.54 140.88,291.43 141.51,291.32 142.15,291.21 142.79,291.10 143.43,290.99 144.07,290.88 144.71,290.77 145.35,290.66 145.99,290.56 146.63,290.45 147.27,290.34 147.91,290.23 148.55,290.12 149.19,290.01 149.83,289.90 150.47,289.79 151.11,289.68 151.75,289.57 152.39,289.46 153.03,289.35 153.67,289.24 154.31,289.13 154.95,289.02 155.59,288.91 156.23,288.80 156.87,288.69 157.50,288.58 158.14,288.47 158.78,288.36 159.42,288.25 160.06,288.14 160.70,288.03 161.34,287.92 161.98,287.82 162.62,287.71 163.26,287.60 163.90,287.49 164.54,287.38 165.18,287.27 165.82,287.16 166.46,287.05 167.10,286.94 167.74,286.83 168.38,286.72 169.02,286.61 169.66,286.50 170.30,286.39 170.94,286.28 171.58,286.17 172.22,286.06 172.86,285.95 173.49,285.84 174.13,285.73 174.77,285.62 175.41,285.51 176.05,285.40 176.69,285.29 177.33,285.18 177.97,285.07 178.61,284.96 179.25,284.85 179.89,284.74 180.53,284.62 181.17,284.51 181.81,284.40 182.45,284.29 183.09,284.18 183.73,284.07 184.37,283.96 185.01,283.85 185.65,283.74 186.29,283.63 186.93,283.52 187.57,283.41 188.21,283.30 188.85,283.19 189.48,283.08 190.12,282.97 190.76,282.86 191.40,282.75 192.04,282.64 192.68,282.53 193.32,282.42 193.96,282.31 194.60,282.20 195.24,282.09 195.88,281.97 196.52,281.86 197.16,281.75 197.80,281.64 198.44,281.53 199.08,281.42 199.72,281.31 200.36,281.20 201.00,281.09 201.64,280.98 202.28,280.87 202.92,280.76 203.56,280.65 204.20,280.54 204.84,280.42 205.47,280.31 206.11,280.20 206.75,280.09 207.39,279.98 208.03,279.87 208.67,279.76 209.31,279.65 209.95,279.54 210.59,279.43 211.23,279.32 211.87,279.20 212.51,279.09 213.15,278.98 213.79,278.87 214.43,278.76 215.07,278.65 215.71,278.54 216.35,278.43 216.99,278.32 217.63,278.20 218.27,278.09 218.91,277.98 219.55,277.87 220.19,277.76 220.83,277.65 221.46,277.54 222.10,277.43 222.74,277.31 223.38,277.20 224.02,277.09 224.66,276.98 225.30,276.87 225.94,276.76 226.58,276.65 227.22,276.54 227.86,276.42 228.50,276.31 229.14,276.20 229.78,276.09 230.42,275.98 231.06,275.87 231.70,275.76 232.34,275.64 232.98,275.53 233.62,275.42 234.26,275.31 234.90,275.20 235.54,275.09 236.18,274.97 236.82,274.86 237.45,274.75 238.09,274.64 238.73,274.53 239.37,274.42 240.01,274.30 240.65,274.19 241.29,274.08 241.93,273.97 242.57,273.86 243.21,273.75 243.85,273.63 244.49,273.52 245.13,273.41 245.77,273.30 246.41,273.19 247.05,273.08 247.69,272.96 248.33,272.85 248.97,272.74 249.61,272.63 250.25,272.52 250.89,272.40 251.53,272.29 252.17,272.18 252.81,272.07 253.44,271.96 254.08,271.84 254.72,271.73 255.36,271.62 256.00,271.51 256.64,271.40 257.28,271.28 257.92,271.17 258.56,271.06 259.20,270.95 259.84,270.83 260.48,270.72 261.12,270.61 261.76,270.50 262.40,270.39 263.04,270.27 263.68,270.16 264.32,270.05 264.96,269.94 265.60,269.82 266.24,269.71 266.88,269.60 267.52,269.49 268.16,269.37 268.79,269.26 269.43,269.15 270.07,269.04 270.71,268.93 271.35,268.81 271.99,268.70 272.63,268.59 273.27,268.48 273.91,268.36 274.55,268.25 275.19,268.14 275.83,268.03 276.47,267.91 277.11,267.80 277.75,267.69 278.39,267.57 279.03,267.46 279.67,267.35 280.31,267.24 280.95,267.12 281.59,267.01 282.23,266.90 282.87,266.79 283.51,266.67 284.15,266.56 284.78,266.45 285.42,266.33 286.06,266.22 286.70,266.11 287.34,266.00 287.98,265.88 288.62,265.77 289.26,265.66 289.90,265.54 290.54,265.43 291.18,265.32 291.82,265.21 292.46,265.09 293.10,264.98 293.74,264.87 294.38,264.75 295.02,264.64 295.66,264.53 296.30,264.41 296.94,264.30 297.58,264.19 298.22,264.08 298.86,263.96 299.50,263.85 300.14,263.74 300.77,263.62 301.41,263.51 302.05,263.40 302.69,263.28 303.33,263.17 303.97,263.06 304.61,262.94 305.25,262.83 305.89,262.72 306.53,262.60 307.17,262.49 307.81,262.38 308.45,262.26 309.09,262.15 309.73,262.04 310.37,261.92 311.01,261.81 311.65,261.70 312.29,261.58 312.93,261.47 313.57,261.36 314.21,261.24 314.85,261.13 315.49,261.02 316.13,260.90 316.76,260.79 317.40,260.67 318.04,260.56 318.68,260.45 319.32,260.33 319.96,260.22 320.60,260.11 321.24,259.99 321.88,259.88 322.52,259.77 323.16,259.65 323.80,259.54 324.44,259.42 325.08,259.31 325.72,259.20 326.36,259.08 327.00,258.97 327.64,258.86 328.28,258.74 328.92,258.63 329.56,258.51 330.20,258.40 330.84,258.29 331.48,258.17 332.12,258.06 332.75,257.94 333.39,257.83 334.03,257.72 334.67,257.60 335.31,257.49 335.95,257.37 336.59,257.26 337.23,257.15 337.87,257.03 338.51,256.92 339.15,256.80 339.79,256.69 340.43,256.58 341.07,256.46 341.71,256.35 342.35,256.23 342.99,256.12 343.63,256.00 344.27,255.89 344.91,255.78 345.55,255.66 346.19,255.55 346.83,255.43 347.47,255.32 348.11,255.20 348.74,255.09 349.38,254.98 350.02,254.86 350.66,254.75 351.30,254.63 351.94,254.52 352.58,254.40 353.22,254.29 353.86,254.17 354.50,254.06 355.14,253.95 355.78,253.83 356.42,253.72 357.06,253.60 357.70,253.49 358.34,253.37 358.98,253.26 359.62,253.14 360.26,253.03 360.90,252.91 361.54,252.80 362.18,252.69 362.82,252.57 363.46,252.46 364.10,252.34 364.73,252.23 365.37,252.11 366.01,252.00 366.65,251.88 367.29,251.77 367.93,251.65 368.57,251.54 369.21,251.42 369.85,251.31 370.49,251.19 371.13,251.08 371.77,250.96 372.41,250.85 373.05,250.73 373.69,250.62 374.33,250.50 374.97,250.39 375.61,250.27 376.25,250.16 376.89,250.04 377.53,249.93 378.17,249.81 378.81,249.70 379.45,249.58 380.09,249.47 380.72,249.35 381.36,249.24 382.00,249.12 382.64,249.01 383.28,248.89 383.92,248.78 384.56,248.66 385.20,248.55 385.84,248.43 386.48,248.32 387.12,248.20 387.76,248.09 388.40,247.97" stroke="#900a90"/>
<polyline points="110.06,321.00 110.10,321.00 110.15,321.00 110.20,321.00 110.24,321.00 110.29,321.00 110.33,321.00 110.38,321.00 110.43,321.00 110.47,321.00 110.52,321.00 110.57,321.00 110.61,321.00 110.66,321.00 110.71,321.00 110.75,321.00 110.80,321.00 110.84,321.00 110.89,321.00 110.94,321.00 110.98,321.00 111.03,321.00 111.08,321.00 111.12,321.00 111.17,321.00 111.22,321.00 111.26,321.00 111.31,321.00 111.35,321.00 111.40,321.00 111.45,321.00 111.49,321.00 111.54,321.00 111.59,321.00 111.63,321.00 111.68,321.00 111.73,321.00 111.77,321.00 111.82,321.00 111.86,321.00 111.91,321.00 111.96,321.00 112.00,321.00 112.05,321.00 112.10,321.00 112.14,321.00 112.19,321.00 112.24,321.00 112.28,321.00 112.33,321.00 112.38,321.00 112.42,321.00 112.47,321.00 112.51,321.00 112.56,321.00 112.61,321.00 112.65,321.00 112.70,321.00 112.75,321.00 112.79,321.00 112.84,321.00 112.89,321.00 112.93,321.00 112.98,321.00 113.02,321.00 113.07,321.00 113.12,321.00 113.16,321.00 113.21,321.00 113.26,321.00 113.30,321.00 113.35,321.00 113.40,321.00 113.44,321.00 113.49,321.00 113.53,321.00 113.58,321.00 113.63,321.00 113.67,321.00 113.72,321.00 113.77,321.00 113.81,321.00 113.86,321.00 113.91,321.00 113.95,321.00 114.00,321.00 114.04,321.00 114.09,321.00 114.14,321.00 114.18,321.00 114.23,321.00 114.28,321.00 114.32,321.00 114.37,321.00 114.42,321.00 114.46,321.00 114.51,321.00 114.55,321.00 114.60,321.00 114.65,321.00 114.69,321.00 114.74,321.00 114.79,321.00 114.83,321.00 114.88,321.00 114.93,321.00 114.97,321.00 115.02,321.00 115.07,321.00 115.11,321.00 115.16,321.00 115.20,321.00 115.25,321.00 115.30,321.00 115.34,321.00 115.39,321.00 115.44,321.00 115.48,321.00 115.53,321.00 115.58,321.00 115.62,321.00 115.67,321.00 115.71,321.00 115.76,321.00 115.81,321.00 115.85,321.00 115.90,321.00 115.95,321.00 115.99,321.00 116.04,321.00 116.09,321.00 116.13,321.00 116.18,321.00 116.22,321.00 116.27,321.00 116.32,321.00 116.36,321.00 116.41,321.00 116.46,321.00 116.50,321.00 116.55,321.00 116.60,321.00 116.64,321.00 116.69,321.00 116.73,321.00 116.78,321.00 116.83,321.00 116.87,321.00 116.92,321.00 116.97,321.00 117.01,320.99 117.06,320.99 117.11,320.99 117.15,320.99 117.20,320.99 117.25,320.99 117.29,320.99 117.34,320.98 117.38,320.98 117.43,320.98 117.48,320.98 117.52,320.97 117.57,320.97 117.62,320.97 117.66,320.96 117.71,320.95 117.76,320.95 117.80,320.94 117.85,320.93 117.89,320.92 117.94,320.91 117.99,320.89 118.03,320.88 118.08,320.86 118.13,320.84 118.17,320.82 118.22,320.79 118.27,320.76 118.31,320.72 118.36,320.68 118.40,320.63 118.45,320.58 118.50,320.52 118.54,320.45 118.59,320.37 118.64,320.28 118.68,320.17 118.73,320.06 118.78,319.92 118.82,319.77 118.87,319.59 118.91,319.40 118.96,319.17 119.01,318.92 119.05,318.64 119.10,318.33 119.15,317.97 119.19,317.58 119.24,317.15 119.29,316.67 119.33,316.14 119.38,315.57 119.42,314.95 119.47,314.28 119.52,313.56 119.56,312.80 119.61,312.00 119.66,311.16 119.70,310.30 119.75,309.41 119.80,308.51 119.84,307.60 119.89,306.69 119.94,305.80 119.98,304.92 120.03,304.08 120.07,303.26 120.12,302.48 120.17,301.75 120.21,301.06 120.26,300.42 120.31,299.83 120.35,299.29 120.40,298.79 120.45,298.34 120.49,297.92 120.54,297.55 120.58,297.22 120.63,296.92 120.68,296.66 120.72,296.42 120.77,296.21 120.82,296.02 120.86,295.85 120.91,295.70 120.96,295.57 121.00,295.45 121.05,295.35 121.09,295.26 121.14,295.18 121.19,295.10 121.23,295.04 121.28,294.98 121.33,294.93 121.37,294.88 121.42,294.84 121.47,294.81 121.51,294.77 121.56,294.74 121.60,294.72 121.65,294.69 121.70,294.67 121.74,294.65 121.79,294.63 121.84,294.61 121.88,294.59 121.93,294.58 121.98,294.56 122.02,294.55 122.07,294.54 122.11,294.52 122.16,294.51 122.21,294.50 122.25,294.49 122.30,294.48 122.35,294.47 122.39,294.46 122.44,294.45 122.49,294.44 122.53,294.43 122.58,294.42 122.63,294.41 122.67,294.40 122.72,294.39 122.76,294.38 122.81,294.37 122.86,294.36 122.90,294.35 122.95,294.35 123.00,294.34 123.04,294.33 123.09,294.32 123.14,294.31 123.18,294.30 123.23,294.29 123.27,294.28 123.32,294.28 123.37,294.27 123.41,294.26 123.46,294.25 123.51,294.24 123.55,294.23 123.60,294.22 123.65,294.22 123.69,294.21 123.74,294.20 123.78,294.19 123.83,294.18 123.88,294.17 123.92,294.17 123.97,294.16 124.02,294.15 124.06,294.14 124.11,294.13 124.16,294.12 124.20,294.11 124.25,294.11 124.29,294.10 124.34,294.09 124.39,294.08 124.43,294.07 124.48,294.06 124.53,294.06 124.57,294.05 124.62,294.04 124.67,294.03 124.71,294.02 124.76,294.01 124.81,294.00 124.85,294.00 124.90,293.99 124.94,293.98 124.99,293.97 125.04,293.96 125.08,293.95 125.13,293.95 125.18,293.94 125.22,293.93 125.27,293.92 125.32,293.91 125.36,293.90 125.41,293.89 125.45,293.89 125.50,293.88 125.55,293.87 125.59,293.86 125.64,293.85 125.69,293.84 125.73,293.83 125.78,293.83 125.83,293.82 125.87,293.81 125.92,293.80 125.96,293.79 126.01,293.78 126.06,293.78 126.10,293.77 126.15,293.76 126.20,293.75 126.24,293.74 126.29,293.73 126.34,293.72 126.38,293.72 126.43,293.71 126.47,293.70 126.52,293.69 126.57,293.68 126.61,293.67 126.66,293.67 126.71,293.66 126.75,293.65 126.80,293.64 126.85,293.63 126.89,293.62 126.94,293.61 126.98,293.61 127.03,293.60 127.08,293.59 127.12,293.58 127.17,293.57 127.22,293.56 127.26,293.56 127.31,293.55 127.36,293.54 127.40,293.53 127.45,293.52 127.50,293.51 127.54,293.50 127.59,293.50 127.63,293.49 127.68,293.48 127.73,293.47 127.77,293.46 127.82,293.45 127.87,293.45 127.91,293.44 127.96,293.43 128.01,293.42 128.05,293.41 128.10,293.40 128.14,293.39 128.19,293.39 128.24,293.38 128.28,293.37 128.33,293.36 128.38,293.35 128.42,293.34 128.47,293.33 128.52,293.33 128.56,293.32 128.61,293.31 128.65,293.30 128.70,293.29 128.75,293.28 128.79,293.28 128.84,293.27 128.89,293.26 128.93,293.25 128.98,293.24 129.03,293.23 129.07,293.22 129.12,293.22 129.16,293.21 129.21,293.20 129.26,293.19 129.30,293.18 129.35,293.17 129.40,293.17 129.44,293.16 129.49,293.15 129.54,293.14 129.58,293.13 129.63,293.12 129.68,293.11 129.72,293.11 129.77,293.10 129.81,293.09 129.86,293.08 129.91,293.07 129.95,293.06 130.00,293.06 130.05,293.05 130.09,293.04 130.14,293.03 130.19,293.02 130.23,293.01 130.28,293.00 130.32,293.00 130.37,292.99 130.42,292.98 130.46,292.97 130.51,292.96 130.56,292.95 130.60,292.94 130.65,292.94 130.70,292.93 130.74,292.92 130.79,292.91 130.83,292.90 130.88,292.89 130.93,292.89 130.97,292.88 131.02,292.87 131.07,292.86 131.11,292.85 131.16,292.84 131.21,292.83 131.25,292.83 131.30,292.82 131.34,292.81 131.39,292.80 131.44,292.79 131.48,292.78 131.53,292.78 131.58,292.77 131.62,292.76 131.67,292.75 131.72,292.74 131.76,292.73 131.81,292.72 131.85,292.72 131.90,292.71 131.95,292.70 131.99,292.69 132.04,292.68 132.09,292.67 132.13,292.66 132.18,292.66 132.23,292.65 132.27,292.64 132.32,292.63 132.37,292.62 132.41,292.61 132.46,292.61 132.50,292.60 132.55,292.59 132.60,292.58 132.64,292.57 132.69,292.56 132.74,292.55 132.78,292.55 132.83,292.54 132.88,292.53 132.92,292.52 132.97,292.51 133.01,292.50 133.06,292.49 133.11,292.49 133.15,292.48 133.20,292.47 133.84,292.35 134.48,292.24 135.12,292.12 135.76,292.00 136.40,291.88 137.04,291.77 137.68,291.65 138.32,291.53 138.96,291.41 139.60,291.30 140.24,291.18 140.88,291.06 141.51,290.94 142.15,290.83 142.79,290.71 143.43,290.59 144.07,290.48 144.71,290.36 145.35,290.24 145.99,290.12 146.63,290.00 147.27,289.89 147.91,289.77 148.55,289.65 149.19,289.53 149.83,289.42 150.47,289.30 151.11,289.18 151.75,289.06 152.39,288.95 153.03,288.83 153.67,288.71 154.31,288.59 154.95,288.47 155.59,288.36 156.23,288.24 156.87,288.12 157.50,288.00 158.14,287.88 158.78,287.77 159.42,287.65 160.06,287.53 160.70,287.41 161.34,287.29 161.98,287.17 162.62,287.06 163.26,286.94 163.90,286.82 164.54,286.70 165.18,286.58 165.82,286.47 166.46,286.35 167.10,286.23 167.74,286.11 168.38,285.99 169.02,285.87 169.66,285.75 170.30,285.64 170.94,285.52 171.58,285.40 172.22,285.28 172.86,285.16 173.49,285.04 174.13,284.92 174.77,284.81 175.41,284.69 176.05,284.57 176.69,284.45 177.33,284.33 177.97,284.21 178.61,284.09 179.25,283.97 179.89,283.86 180.53,283.74 181.17,283.62 181.81,283.50 182.45,283.38 183.09,283.26 183.73,283.14 184.37,283.02 185.01,282.90 185.65,282.78 186.29,282.67 186.93,282.55 187.57,282.43 188.21,282.31 188.85,282.19 189.48,282.07 190.12,281.95 190.76,281.83 191.40,281.71 192.04,281.59 192.68,281.47 193.32,281.35 193.96,281.23 194.60,281.11 195.24,280.99 195.88,280.88 196.52,280.76 197.16,280.64 197.80,280.52 198.44,280.40 199.08,280.28 199.72,280.16 200.36,280.04 201.00,279.92 201.64,279.80 202.28,279.68 202.92,279.56 203.56,279.44 204.20,279.32 204.84,279.20 205.47,279.08 206.11,278.96 206.75,278.84 207.39,278.72 208.03,278.60 208.67,278.48 209.31,278.36 209.95,278.24 210.59,278.12 211.23,278.00 211.87,277.88 212.51,277.76 213.15,277.64 213.79,277.52 214.43,277.40 215.07,277.28 215.71,277.16 216.35,277.04 216.99,276.92 217.63,276.80 218.27,276.68 218.91,276.56 219.55,276.44 220.19,276.32 220.83,276.20 221.46,276.07 222.10,275.95 222.74,275.83 223.38,275.71 224.02,275.59 224.66,275.47 225.30,275.35 225.94,275.23 226.58,275.11 227.22,274.99 227.86,274.87 228.50,274.75 229.14,274.63 229.78,274.51 230.42,274.39 231.06,274.26 231.70,274.14 232.34,274.02 232.98,273.90 233.62,273.78 234.26,273.66 234.90,273.54 235.54,273.42 236.18,273.30 236.82,273.18 237.45,273.05 238.09,272.93 238.73,272.81 239.37,272.69 240.01,272.57 240.65,272.45 241.29,272.33 241.93,272.21 242.57,272.09 243.21,271.96 243.85,271.84 244.49,271.72 245.13,271.60 245.77,271.48 246.41,271.36 247.05,271.24 247.69,271.11 248.33,270.99 248.97,270.87 249.61,270.75 250.25,270.63 250.89,270.51 251.53,270.38 252.17,270.26 252.81,270.14 253.44,270.02 254.08,269.90 254.72,269.78 255.36,269.65 256.00,269.53 256.64,269.41 257.28,269.29 257.92,269.17 258.56,269.04 259.20,268.92 259.84,268.80 260.48,268.68 261.12,268.56 261.76,268.44 262.40,268.31 263.04,268.19 263.68,268.07 264.32,267.95 264.96,267.82 265.60,267.70 266.24,267.58 266.88,267.46 267.52,267.34 268.16,267.21 268.79,267.09 269.43,266.97 270.07,266.85 270.71,266.72 271.35,266.60 271.99,266.48 272.63,266.36 273.27,266.23 273.91,266.11 274.55,265.99 275.19,265.87 275.83,265.74 276.47,265.62 277.11,265.50 277.75,265.38 278.39,265.25 279.03,265.13 279.67,265.01 280.31,264.89 280.95,264.76 281.59,264.64 282.23,264.52 282.87,264.39 283.51,264.27 284.15,264.15 284.78,264.03 285.42,263.90 286.06,263.78 286.70,263.66 287.34,263.53 287.98,263.41 288.62,263.29 289.26,263.16 289.90,263.04 290.54,262.92 291.18,262.80 291.82,262.67 292.46,262.55 293.10,262.43 293.74,262.30 294.38,262.18 295.02,262.06 295.66,261.93 296.30,261.81 296.94,261.69 297.58,261.56 298.22,261.44 298.86,261.32 299.50,261.19 300.14,261.07 300.77,260.94 301.41,260.82 302.05,260.70 302.69,260.57 303.33,260.45 303.97,260.33 304.61,260.20 305.25,260.08 305.89,259.96 306.53,259.83 307.17,259.71 307.81,259.58 308.45,259.46 309.09,259.34 309.73,259.21 310.37,259.09 311.01,258.96 311.65,258.84 312.29,258.72 312.93,258.59 313.57,258.47 314.21,258.34 314.85,258.22 315.49,258.10 316.13,257.97 316.76,257.85 317.40,257.72 318.04,257.60 318.68,257.48 319.32,257.35 319.96,257.23 320.60,257.10 321.24,256.98 321.88,256.85 322.52,256.73 323.16,256.61 323.80,256.48 324.44,256.36 325.08,256.23 325.72,256.11 326.36,255.98 327.00,255.86 327.64,255.73 328.28,255.61 328.92,255.49 329.56,255.36 330.20,255.24 330.84,255.11 331.48,254.99 332.12,254.86 332.75,254.74 333.39,254.61 334.03,254.49 334.67,254.36 335.31,254.24 335.95,254.11 336.59,253.99 337.23,253.86 337.87,253.74 338.51,253.61 339.15,253.49 339.79,253.36 340.43,253.24 341.07,253.11 341.71,252.99 342.35,252.86 342.99,252.74 343.63,252.61 344.27,252.49 344.91,252.36 345.55,252.24 346.19,252.11 346.83,251.99 347.47,251.86 348.11,251.74 348.74,251.61 349.38,251.48 350.02,251.36 350.66,251.23 351.30,251.11 351.94,250.98 352.58,250.86 353.22,250.73 353.86,250.61 354.50,250.48 355.14,250.35 355.78,250.23 356.42,250.10 357.06,249.98 357.70,249.85 358.34,249.73 358.98,249.60 359.62,249.47 360.26,249.35 360.90,249.22 361.54,249.10 362.18,248.97 362.82,248.85 363.46,248.72 364.10,248.59 364.73,248.47 365.37,248.34 366.01,248.22 366.65,248.09 367.29,247.96 367.93,247.84 368.57,247.71 369.21,247.59 369.85,247.46 370.49,247.33 371.13,247.21 371.77,247.08 372.41,246.95 373.05,246.83 373.69,246.70 374.33,246.58 374.97,246.45 375.61,246.32 376.25,246.20 376.89,246.07 377.53,245.94 378.17,245.82 378.81,245.69 379.45,245.56 380.09,245.44 380.72,245.31 381.36,245.18 382.00,245.06 382.64,244.93 383.28,244.80 383.92,244.68 384.56,244.55 385.20,244.42 385.84,244.30 386.48,244.17 387.12,244.04 387.76,243.92 388.40,243.79" stroke="#8b0505"/>
<polyline points="110.06,307.63 111.45,307.59 112.85,307.55 114.25,307.51 115.65,307.47 117.05,307.42 118.45,307.38 119.85,307.33 121.25,307.28 122.64,307.24 124.04,307.19 125.44,307.14 126.84,307.09 128.24,307.04 129.64,306.99 131.04,306.93 132.44,306.88 133.83,306.82 135.23,306.77 136.63,306.71 138.03,306.66 139.43,306.60 140.83,306.54 142.23,306.48 143.63,306.42 145.02,306.36 146.42,306.30 147.82,306.23 149.22,306.17 150.62,306.10 152.02,306.04 153.42,305.97 154.81,305.91 156.21,305.84 157.61,305.77 159.01,305.70 160.41,305.63 161.81,305.56 163.21,305.49 164.61,305.42 166.00,305.34 167.40,305.27 168.80,305.19 170.20,305.12 171.60,305.04 173.00,304.97 174.40,304.89 175.80,304.81 177.19,304.73 178.59,304.65 179.99,304.57 181.39,304.49 182.79,304.41 184.19,304.32 185.59,304.24 186.99,304.16 188.38,304.07 189.78,303.99 191.18,303.90 192.58,303.81 193.98,303.73 195.38,303.64 196.78,303.55 198.17,303.46 199.57,303.37 200.97,303.28 202.37,303.19 203.77,303.10 205.17,303.00 206.57,302.91 207.97,302.81 209.36,302.72 210.76,302.62 212.16,302.53 213.56,302.43 214.96,302.33 216.36,302.24 217.76,302.14 219.16,302.04 220.55,301.94 221.95,301.84 223.35,301.74 224.75,301.64 226.15,301.54 227.55,301.43 228.95,301.33 230.35,301.23 231.74,301.12 233.14,301.02 234.54,300.91 235.94,300.80 237.34,300.70 238.74,300.59 240.14,300.48 241.54,300.38 242.93,300.27 244.33,300.16 245.73,300.05 247.13,299.94 248.53,299.83 249.93,299.71 251.33,299.60 252.72,299.49 254.12,299.38 255.52,299.26 256.92,299.15 258.32,299.04 259.72,298.92 261.12,298.80 262.52,298.69 263.91,298.57 265.31,298.46 266.71,298.34 268.11,298.22 269.51,298.10 270.91,297.98 272.31,297.86 273.71,297.74 275.10,297.62 276.50,297.50 277.90,297.38 279.30,297.26 280.70,297.14 282.10,297.02 283.50,296.89 284.90,296.77 286.29,296.65 287.69,296.52 289.09,296.40 290.49,296.27 291.89,296.15 293.29,296.02 294.69,295.90 296.08,295.77 297.48,295.64 298.88,295.52 300.28,295.39 301.68,295.26 303.08,295.13 304.48,295.01 305.88,294.88 307.27,294.75 308.67,294.62 310.07,294.49 311.47,294.36 312.87,294.23 314.27,294.10 315.67,293.96 317.07,293.83 318.46,293.70 319.86,293.57 321.26,293.44 322.66,293.30 324.06,293.17 325.46,293.04 326.86,292.90 328.26,292.77 329.65,292.63 331.05,292.50 332.45,292.36 333.85,292.23 335.25,292.09 336.65,291.96 338.05,291.82 339.45,291.68 340.84,291.55 342.24,291.41 343.64,291.27 345.04,291.14 346.44,291.00 347.84,290.86 349.24,290.72 350.63,290.58 352.03,290.44 353.43,290.31 354.83,290.17 356.23,290.03 357.63,289.89 359.03,289.75 360.43,289.61 361.82,289.47 363.22,289.33 364.62,289.19 366.02,289.05 367.42,288.91 368.82,288.77 370.22,288.62 371.62,288.48 373.01,288.34 374.41,288.20 375.81,288.06 377.21,287.92 378.61,287.77 380.01,287.63 381.41,287.49 382.81,287.35 384.20,287.20 385.60,287.06 387.00,286.92 388.40,286.77" stroke="#ff0a0a"/>
</g>
<g font-family="Liberation Sans, sans-serif" font-size="10.5" text-anchor="middle">
<text x="144.30" y="225.00" fill="#0a8e8e" text-anchor="middle" >0.15</text>
<text x="144.30" y="242.30" fill="#0a0aff" text-anchor="middle" >0.10</text>
<text x="275.20" y="255.20" fill="#0a8c0a" text-anchor="middle" >0.20</text>
<text x="314.20" y="226.40" fill="#8e8e0a" text-anchor="middle" >0.25</text>
<text x="333.40" y="268.30" fill="#900a90" text-anchor="middle" >0.30</text>
<text x="364.70" y="262.60" fill="#8b0505" text-anchor="middle" >0.40</text>
<text x="349.50" y="299.90" fill="#ff0a0a" text-anchor="middle" >0.50</text>
</g>
<g font-family="Liberation Sans, sans-serif" font-size="10.5" fill="#000" stroke="#000" stroke-width="0.4">
<text x="107.10" y="177.10" fill="#000" text-anchor="middle" font-size="9.9">0</text>
<text x="152.20" y="177.10" fill="#000" text-anchor="middle" font-size="9.9">4</text>
<text x="197.31" y="177.10" fill="#000" text-anchor="middle" font-size="9.9">8</text>
<text x="242.41" y="177.10" fill="#000" text-anchor="middle" font-size="9.9">12</text>
<text x="287.52" y="177.10" fill="#000" text-anchor="middle" font-size="9.9">16</text>
<text x="332.62" y="177.10" fill="#000" text-anchor="middle" font-size="9.9">20</text>
<text x="377.72" y="177.10" fill="#000" text-anchor="middle" font-size="9.9">24</text>
<text x="105.30" y="42.90" fill="#000" text-anchor="end" font-size="9.9">0</text>
<text x="105.30" y="71.06" fill="#000" text-anchor="end" font-size="9.9">2</text>
<path d="M94.3 67.36h4.1" stroke-width="1.3" fill="none"/>
<text x="105.30" y="99.22" fill="#000" text-anchor="end" font-size="9.9">4</text>
<path d="M94.3 95.52h4.1" stroke-width="1.3" fill="none"/>
<text x="105.30" y="127.38" fill="#000" text-anchor="end" font-size="9.9">6</text>
<path d="M94.3 123.68h4.1" stroke-width="1.3" fill="none"/>
<text x="105.30" y="155.54" fill="#000" text-anchor="end" font-size="9.9">8</text>
<path d="M94.3 151.84h4.1" stroke-width="1.3" fill="none"/>
<text x="106.90" y="331.60" fill="#000" text-anchor="middle" font-size="9.9">0</text>
<text x="142.10" y="331.60" fill="#000" text-anchor="middle" font-size="9.9">40</text>
<text x="177.30" y="331.60" fill="#000" text-anchor="middle" font-size="9.9">80</text>
<text x="212.50" y="331.60" fill="#000" text-anchor="middle" font-size="9.9">120</text>
<text x="247.70" y="331.60" fill="#000" text-anchor="middle" font-size="9.9">160</text>
<text x="282.90" y="331.60" fill="#000" text-anchor="middle" font-size="9.9">200</text>
<text x="318.10" y="331.60" fill="#000" text-anchor="middle" font-size="9.9">240</text>
<text x="353.30" y="331.60" fill="#000" text-anchor="middle" font-size="9.9">280</text>
<text x="104.00" y="324.20" fill="#000" text-anchor="end" font-size="9.9">0</text>
<text x="104.00" y="307.65" fill="#000" text-anchor="end" font-size="9.9">1</text>
<text x="104.00" y="291.10" fill="#000" text-anchor="end" font-size="9.9">2</text>
<text x="104.00" y="274.55" fill="#000" text-anchor="end" font-size="9.9">3</text>
<text x="104.00" y="258.00" fill="#000" text-anchor="end" font-size="9.9">4</text>
<text x="104.00" y="241.45" fill="#000" text-anchor="end" font-size="9.9">5</text>
<text x="104.00" y="224.90" fill="#000" text-anchor="end" font-size="9.9">6</text>
<text x="104.00" y="208.35" fill="#000" text-anchor="end" font-size="9.9">7</text>
<text x="104.00" y="191.80" fill="#000" text-anchor="end" font-size="9.9">8</text>
<text x="235.60" y="344.40" fill="#000" text-anchor="middle" font-style="italic" font-size="11">T</text>
<text x="247.30" y="344.40" fill="#000" text-anchor="middle" font-size="11">(</text>
<text x="254.30" y="344.40" fill="#000" text-anchor="middle" font-size="11">K</text>
<text x="261.30" y="344.40" fill="#000" text-anchor="middle" font-size="11">)</text>
<g transform="translate(90.9,0) rotate(-90)">
<text x="-123" y="-0.8" text-anchor="middle" font-style="italic" font-weight="bold" stroke="none" font-size="10.5">χ</text>
<text x="-86" y="0" text-anchor="middle" font-family="Liberation Mono, monospace" font-weight="bold" stroke="none" font-size="9.8">(emu/mol)</text>
</g>
<g transform="translate(93.3,0) rotate(-90)" text-anchor="middle">
<text x="-282" y="-0.5" font-style="italic" font-size="11">ρ</text>
<text x="-271" y="0" font-size="11">(</text>
<text x="-261" y="0">10</text>
<text x="-250.3" y="-6.6" font-size="7">6</text>
<path d="M-254.6 -8.9h2.6" stroke-width="1.1" fill="none"/>
<text x="-237.7" y="0">Ω</text>
<text x="-230.3" y="0">m</text>
<text x="-224.3" y="0" font-size="11">)</text>
</g>
</g>
</svg>
</body></html>
